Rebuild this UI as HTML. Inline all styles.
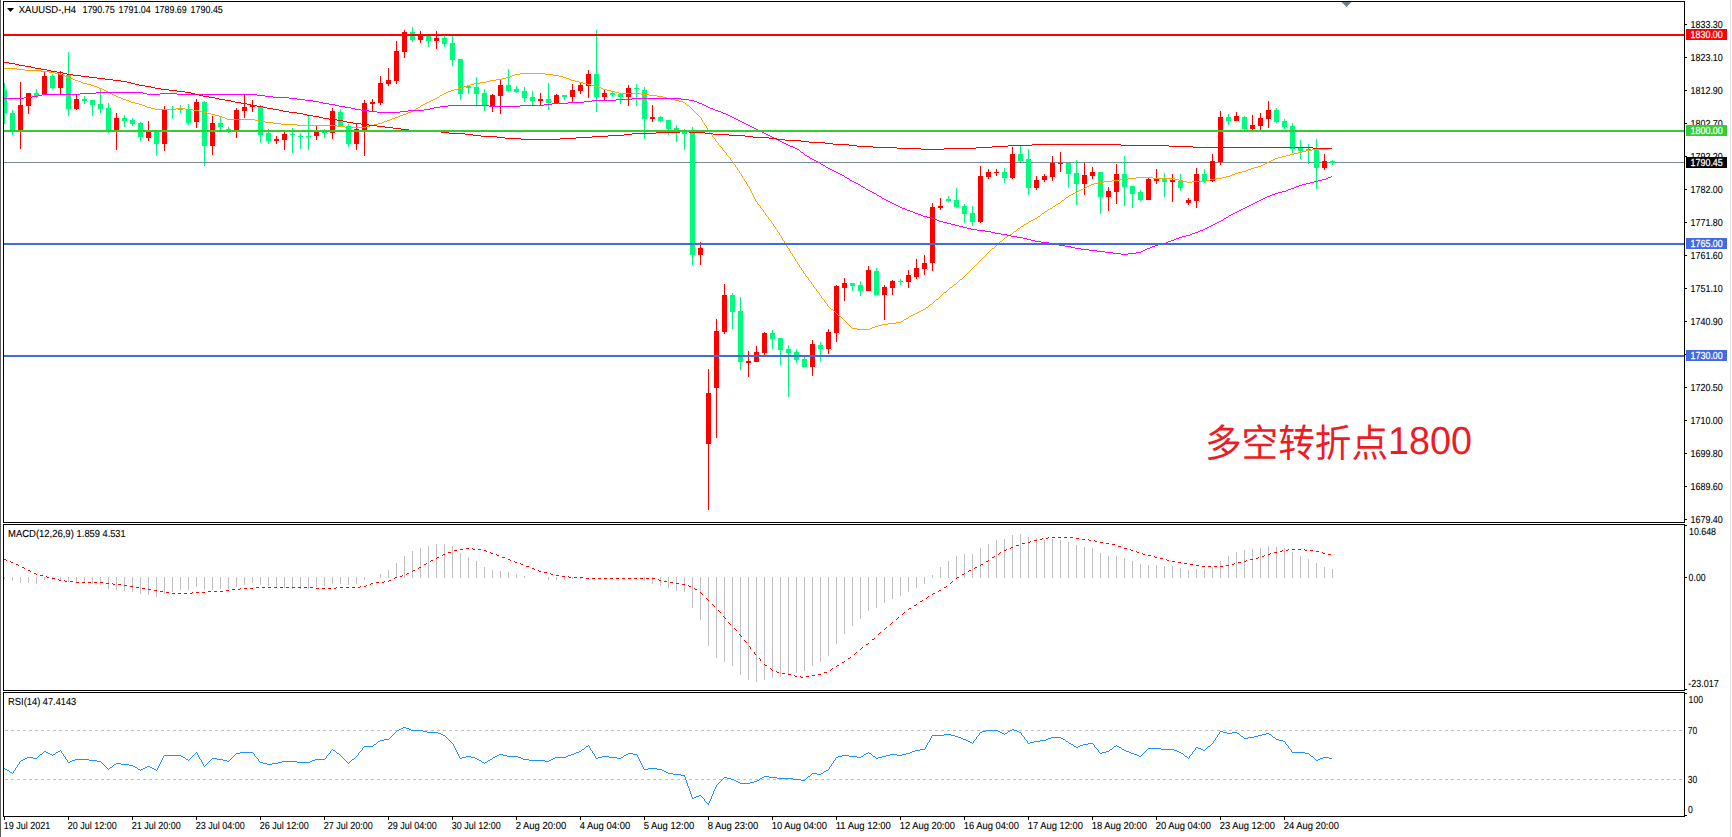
<!DOCTYPE html>
<html lang="zh"><head><meta charset="utf-8"><title>XAUUSD-,H4</title>
<style>html,body{margin:0;padding:0;background:#fff;overflow:hidden}svg{display:block}text{font-family:"Liberation Sans","Noto Sans CJK SC",sans-serif;font-size:10.2px;fill:#000;stroke:#000;stroke-width:0.1px;text-rendering:geometricPrecision}.cjk{stroke:none;font-family:"Liberation Sans","Noto Sans CJK SC",sans-serif;font-size:36px;fill:#ed1c24}.w{fill:#fff}</style></head><body>
<svg width="1732" height="837" viewBox="0 0 1732 837">
<rect x="0" y="0" width="1732" height="837" fill="#fff"/>
<g shape-rendering="crispEdges">
<rect x="0" y="0" width="1" height="837" fill="#5e5e5e"/>
<rect x="1730" y="0" width="1" height="837" fill="#e3e3e3"/>
<rect x="3" y="1" width="1682" height="1" fill="#000"/>
<rect x="3" y="522" width="1682" height="1" fill="#000"/>
<rect x="3" y="524" width="1682" height="1" fill="#000"/>
<rect x="3" y="690" width="1682" height="1" fill="#000"/>
<rect x="3" y="692" width="1682" height="1" fill="#000"/>
<rect x="3" y="816" width="1682" height="1" fill="#000"/>
<rect x="3" y="1" width="1" height="522" fill="#000"/>
<rect x="3" y="524" width="1" height="167" fill="#000"/>
<rect x="3" y="692" width="1" height="125" fill="#000"/>
<rect x="1684" y="1" width="1" height="522" fill="#000"/>
<rect x="1684" y="524" width="1" height="167" fill="#000"/>
<rect x="1684" y="692" width="1" height="125" fill="#000"/>
<rect x="4" y="162" width="1680" height="1" fill="#778899"/>
<rect x="5" y="730" width="3" height="1" fill="#c0c0c0"/>
<rect x="11" y="730" width="3" height="1" fill="#c0c0c0"/>
<rect x="17" y="730" width="3" height="1" fill="#c0c0c0"/>
<rect x="23" y="730" width="3" height="1" fill="#c0c0c0"/>
<rect x="29" y="730" width="3" height="1" fill="#c0c0c0"/>
<rect x="35" y="730" width="3" height="1" fill="#c0c0c0"/>
<rect x="41" y="730" width="3" height="1" fill="#c0c0c0"/>
<rect x="47" y="730" width="3" height="1" fill="#c0c0c0"/>
<rect x="53" y="730" width="3" height="1" fill="#c0c0c0"/>
<rect x="59" y="730" width="3" height="1" fill="#c0c0c0"/>
<rect x="65" y="730" width="3" height="1" fill="#c0c0c0"/>
<rect x="71" y="730" width="3" height="1" fill="#c0c0c0"/>
<rect x="77" y="730" width="3" height="1" fill="#c0c0c0"/>
<rect x="83" y="730" width="3" height="1" fill="#c0c0c0"/>
<rect x="89" y="730" width="3" height="1" fill="#c0c0c0"/>
<rect x="95" y="730" width="3" height="1" fill="#c0c0c0"/>
<rect x="101" y="730" width="3" height="1" fill="#c0c0c0"/>
<rect x="107" y="730" width="3" height="1" fill="#c0c0c0"/>
<rect x="113" y="730" width="3" height="1" fill="#c0c0c0"/>
<rect x="119" y="730" width="3" height="1" fill="#c0c0c0"/>
<rect x="125" y="730" width="3" height="1" fill="#c0c0c0"/>
<rect x="131" y="730" width="3" height="1" fill="#c0c0c0"/>
<rect x="137" y="730" width="3" height="1" fill="#c0c0c0"/>
<rect x="143" y="730" width="3" height="1" fill="#c0c0c0"/>
<rect x="149" y="730" width="3" height="1" fill="#c0c0c0"/>
<rect x="155" y="730" width="3" height="1" fill="#c0c0c0"/>
<rect x="161" y="730" width="3" height="1" fill="#c0c0c0"/>
<rect x="167" y="730" width="3" height="1" fill="#c0c0c0"/>
<rect x="173" y="730" width="3" height="1" fill="#c0c0c0"/>
<rect x="179" y="730" width="3" height="1" fill="#c0c0c0"/>
<rect x="185" y="730" width="3" height="1" fill="#c0c0c0"/>
<rect x="191" y="730" width="3" height="1" fill="#c0c0c0"/>
<rect x="197" y="730" width="3" height="1" fill="#c0c0c0"/>
<rect x="203" y="730" width="3" height="1" fill="#c0c0c0"/>
<rect x="209" y="730" width="3" height="1" fill="#c0c0c0"/>
<rect x="215" y="730" width="3" height="1" fill="#c0c0c0"/>
<rect x="221" y="730" width="3" height="1" fill="#c0c0c0"/>
<rect x="227" y="730" width="3" height="1" fill="#c0c0c0"/>
<rect x="233" y="730" width="3" height="1" fill="#c0c0c0"/>
<rect x="239" y="730" width="3" height="1" fill="#c0c0c0"/>
<rect x="245" y="730" width="3" height="1" fill="#c0c0c0"/>
<rect x="251" y="730" width="3" height="1" fill="#c0c0c0"/>
<rect x="257" y="730" width="3" height="1" fill="#c0c0c0"/>
<rect x="263" y="730" width="3" height="1" fill="#c0c0c0"/>
<rect x="269" y="730" width="3" height="1" fill="#c0c0c0"/>
<rect x="275" y="730" width="3" height="1" fill="#c0c0c0"/>
<rect x="281" y="730" width="3" height="1" fill="#c0c0c0"/>
<rect x="287" y="730" width="3" height="1" fill="#c0c0c0"/>
<rect x="293" y="730" width="3" height="1" fill="#c0c0c0"/>
<rect x="299" y="730" width="3" height="1" fill="#c0c0c0"/>
<rect x="305" y="730" width="3" height="1" fill="#c0c0c0"/>
<rect x="311" y="730" width="3" height="1" fill="#c0c0c0"/>
<rect x="317" y="730" width="3" height="1" fill="#c0c0c0"/>
<rect x="323" y="730" width="3" height="1" fill="#c0c0c0"/>
<rect x="329" y="730" width="3" height="1" fill="#c0c0c0"/>
<rect x="335" y="730" width="3" height="1" fill="#c0c0c0"/>
<rect x="341" y="730" width="3" height="1" fill="#c0c0c0"/>
<rect x="347" y="730" width="3" height="1" fill="#c0c0c0"/>
<rect x="353" y="730" width="3" height="1" fill="#c0c0c0"/>
<rect x="359" y="730" width="3" height="1" fill="#c0c0c0"/>
<rect x="365" y="730" width="3" height="1" fill="#c0c0c0"/>
<rect x="371" y="730" width="3" height="1" fill="#c0c0c0"/>
<rect x="377" y="730" width="3" height="1" fill="#c0c0c0"/>
<rect x="383" y="730" width="3" height="1" fill="#c0c0c0"/>
<rect x="389" y="730" width="3" height="1" fill="#c0c0c0"/>
<rect x="395" y="730" width="3" height="1" fill="#c0c0c0"/>
<rect x="401" y="730" width="3" height="1" fill="#c0c0c0"/>
<rect x="407" y="730" width="3" height="1" fill="#c0c0c0"/>
<rect x="413" y="730" width="3" height="1" fill="#c0c0c0"/>
<rect x="419" y="730" width="3" height="1" fill="#c0c0c0"/>
<rect x="425" y="730" width="3" height="1" fill="#c0c0c0"/>
<rect x="431" y="730" width="3" height="1" fill="#c0c0c0"/>
<rect x="437" y="730" width="3" height="1" fill="#c0c0c0"/>
<rect x="443" y="730" width="3" height="1" fill="#c0c0c0"/>
<rect x="449" y="730" width="3" height="1" fill="#c0c0c0"/>
<rect x="455" y="730" width="3" height="1" fill="#c0c0c0"/>
<rect x="461" y="730" width="3" height="1" fill="#c0c0c0"/>
<rect x="467" y="730" width="3" height="1" fill="#c0c0c0"/>
<rect x="473" y="730" width="3" height="1" fill="#c0c0c0"/>
<rect x="479" y="730" width="3" height="1" fill="#c0c0c0"/>
<rect x="485" y="730" width="3" height="1" fill="#c0c0c0"/>
<rect x="491" y="730" width="3" height="1" fill="#c0c0c0"/>
<rect x="497" y="730" width="3" height="1" fill="#c0c0c0"/>
<rect x="503" y="730" width="3" height="1" fill="#c0c0c0"/>
<rect x="509" y="730" width="3" height="1" fill="#c0c0c0"/>
<rect x="515" y="730" width="3" height="1" fill="#c0c0c0"/>
<rect x="521" y="730" width="3" height="1" fill="#c0c0c0"/>
<rect x="527" y="730" width="3" height="1" fill="#c0c0c0"/>
<rect x="533" y="730" width="3" height="1" fill="#c0c0c0"/>
<rect x="539" y="730" width="3" height="1" fill="#c0c0c0"/>
<rect x="545" y="730" width="3" height="1" fill="#c0c0c0"/>
<rect x="551" y="730" width="3" height="1" fill="#c0c0c0"/>
<rect x="557" y="730" width="3" height="1" fill="#c0c0c0"/>
<rect x="563" y="730" width="3" height="1" fill="#c0c0c0"/>
<rect x="569" y="730" width="3" height="1" fill="#c0c0c0"/>
<rect x="575" y="730" width="3" height="1" fill="#c0c0c0"/>
<rect x="581" y="730" width="3" height="1" fill="#c0c0c0"/>
<rect x="587" y="730" width="3" height="1" fill="#c0c0c0"/>
<rect x="593" y="730" width="3" height="1" fill="#c0c0c0"/>
<rect x="599" y="730" width="3" height="1" fill="#c0c0c0"/>
<rect x="605" y="730" width="3" height="1" fill="#c0c0c0"/>
<rect x="611" y="730" width="3" height="1" fill="#c0c0c0"/>
<rect x="617" y="730" width="3" height="1" fill="#c0c0c0"/>
<rect x="623" y="730" width="3" height="1" fill="#c0c0c0"/>
<rect x="629" y="730" width="3" height="1" fill="#c0c0c0"/>
<rect x="635" y="730" width="3" height="1" fill="#c0c0c0"/>
<rect x="641" y="730" width="3" height="1" fill="#c0c0c0"/>
<rect x="647" y="730" width="3" height="1" fill="#c0c0c0"/>
<rect x="653" y="730" width="3" height="1" fill="#c0c0c0"/>
<rect x="659" y="730" width="3" height="1" fill="#c0c0c0"/>
<rect x="665" y="730" width="3" height="1" fill="#c0c0c0"/>
<rect x="671" y="730" width="3" height="1" fill="#c0c0c0"/>
<rect x="677" y="730" width="3" height="1" fill="#c0c0c0"/>
<rect x="683" y="730" width="3" height="1" fill="#c0c0c0"/>
<rect x="689" y="730" width="3" height="1" fill="#c0c0c0"/>
<rect x="695" y="730" width="3" height="1" fill="#c0c0c0"/>
<rect x="701" y="730" width="3" height="1" fill="#c0c0c0"/>
<rect x="707" y="730" width="3" height="1" fill="#c0c0c0"/>
<rect x="713" y="730" width="3" height="1" fill="#c0c0c0"/>
<rect x="719" y="730" width="3" height="1" fill="#c0c0c0"/>
<rect x="725" y="730" width="3" height="1" fill="#c0c0c0"/>
<rect x="731" y="730" width="3" height="1" fill="#c0c0c0"/>
<rect x="737" y="730" width="3" height="1" fill="#c0c0c0"/>
<rect x="743" y="730" width="3" height="1" fill="#c0c0c0"/>
<rect x="749" y="730" width="3" height="1" fill="#c0c0c0"/>
<rect x="755" y="730" width="3" height="1" fill="#c0c0c0"/>
<rect x="761" y="730" width="3" height="1" fill="#c0c0c0"/>
<rect x="767" y="730" width="3" height="1" fill="#c0c0c0"/>
<rect x="773" y="730" width="3" height="1" fill="#c0c0c0"/>
<rect x="779" y="730" width="3" height="1" fill="#c0c0c0"/>
<rect x="785" y="730" width="3" height="1" fill="#c0c0c0"/>
<rect x="791" y="730" width="3" height="1" fill="#c0c0c0"/>
<rect x="797" y="730" width="3" height="1" fill="#c0c0c0"/>
<rect x="803" y="730" width="3" height="1" fill="#c0c0c0"/>
<rect x="809" y="730" width="3" height="1" fill="#c0c0c0"/>
<rect x="815" y="730" width="3" height="1" fill="#c0c0c0"/>
<rect x="821" y="730" width="3" height="1" fill="#c0c0c0"/>
<rect x="827" y="730" width="3" height="1" fill="#c0c0c0"/>
<rect x="833" y="730" width="3" height="1" fill="#c0c0c0"/>
<rect x="839" y="730" width="3" height="1" fill="#c0c0c0"/>
<rect x="845" y="730" width="3" height="1" fill="#c0c0c0"/>
<rect x="851" y="730" width="3" height="1" fill="#c0c0c0"/>
<rect x="857" y="730" width="3" height="1" fill="#c0c0c0"/>
<rect x="863" y="730" width="3" height="1" fill="#c0c0c0"/>
<rect x="869" y="730" width="3" height="1" fill="#c0c0c0"/>
<rect x="875" y="730" width="3" height="1" fill="#c0c0c0"/>
<rect x="881" y="730" width="3" height="1" fill="#c0c0c0"/>
<rect x="887" y="730" width="3" height="1" fill="#c0c0c0"/>
<rect x="893" y="730" width="3" height="1" fill="#c0c0c0"/>
<rect x="899" y="730" width="3" height="1" fill="#c0c0c0"/>
<rect x="905" y="730" width="3" height="1" fill="#c0c0c0"/>
<rect x="911" y="730" width="3" height="1" fill="#c0c0c0"/>
<rect x="917" y="730" width="3" height="1" fill="#c0c0c0"/>
<rect x="923" y="730" width="3" height="1" fill="#c0c0c0"/>
<rect x="929" y="730" width="3" height="1" fill="#c0c0c0"/>
<rect x="935" y="730" width="3" height="1" fill="#c0c0c0"/>
<rect x="941" y="730" width="3" height="1" fill="#c0c0c0"/>
<rect x="947" y="730" width="3" height="1" fill="#c0c0c0"/>
<rect x="953" y="730" width="3" height="1" fill="#c0c0c0"/>
<rect x="959" y="730" width="3" height="1" fill="#c0c0c0"/>
<rect x="965" y="730" width="3" height="1" fill="#c0c0c0"/>
<rect x="971" y="730" width="3" height="1" fill="#c0c0c0"/>
<rect x="977" y="730" width="3" height="1" fill="#c0c0c0"/>
<rect x="983" y="730" width="3" height="1" fill="#c0c0c0"/>
<rect x="989" y="730" width="3" height="1" fill="#c0c0c0"/>
<rect x="995" y="730" width="3" height="1" fill="#c0c0c0"/>
<rect x="1001" y="730" width="3" height="1" fill="#c0c0c0"/>
<rect x="1007" y="730" width="3" height="1" fill="#c0c0c0"/>
<rect x="1013" y="730" width="3" height="1" fill="#c0c0c0"/>
<rect x="1019" y="730" width="3" height="1" fill="#c0c0c0"/>
<rect x="1025" y="730" width="3" height="1" fill="#c0c0c0"/>
<rect x="1031" y="730" width="3" height="1" fill="#c0c0c0"/>
<rect x="1037" y="730" width="3" height="1" fill="#c0c0c0"/>
<rect x="1043" y="730" width="3" height="1" fill="#c0c0c0"/>
<rect x="1049" y="730" width="3" height="1" fill="#c0c0c0"/>
<rect x="1055" y="730" width="3" height="1" fill="#c0c0c0"/>
<rect x="1061" y="730" width="3" height="1" fill="#c0c0c0"/>
<rect x="1067" y="730" width="3" height="1" fill="#c0c0c0"/>
<rect x="1073" y="730" width="3" height="1" fill="#c0c0c0"/>
<rect x="1079" y="730" width="3" height="1" fill="#c0c0c0"/>
<rect x="1085" y="730" width="3" height="1" fill="#c0c0c0"/>
<rect x="1091" y="730" width="3" height="1" fill="#c0c0c0"/>
<rect x="1097" y="730" width="3" height="1" fill="#c0c0c0"/>
<rect x="1103" y="730" width="3" height="1" fill="#c0c0c0"/>
<rect x="1109" y="730" width="3" height="1" fill="#c0c0c0"/>
<rect x="1115" y="730" width="3" height="1" fill="#c0c0c0"/>
<rect x="1121" y="730" width="3" height="1" fill="#c0c0c0"/>
<rect x="1127" y="730" width="3" height="1" fill="#c0c0c0"/>
<rect x="1133" y="730" width="3" height="1" fill="#c0c0c0"/>
<rect x="1139" y="730" width="3" height="1" fill="#c0c0c0"/>
<rect x="1145" y="730" width="3" height="1" fill="#c0c0c0"/>
<rect x="1151" y="730" width="3" height="1" fill="#c0c0c0"/>
<rect x="1157" y="730" width="3" height="1" fill="#c0c0c0"/>
<rect x="1163" y="730" width="3" height="1" fill="#c0c0c0"/>
<rect x="1169" y="730" width="3" height="1" fill="#c0c0c0"/>
<rect x="1175" y="730" width="3" height="1" fill="#c0c0c0"/>
<rect x="1181" y="730" width="3" height="1" fill="#c0c0c0"/>
<rect x="1187" y="730" width="3" height="1" fill="#c0c0c0"/>
<rect x="1193" y="730" width="3" height="1" fill="#c0c0c0"/>
<rect x="1199" y="730" width="3" height="1" fill="#c0c0c0"/>
<rect x="1205" y="730" width="3" height="1" fill="#c0c0c0"/>
<rect x="1211" y="730" width="3" height="1" fill="#c0c0c0"/>
<rect x="1217" y="730" width="3" height="1" fill="#c0c0c0"/>
<rect x="1223" y="730" width="3" height="1" fill="#c0c0c0"/>
<rect x="1229" y="730" width="3" height="1" fill="#c0c0c0"/>
<rect x="1235" y="730" width="3" height="1" fill="#c0c0c0"/>
<rect x="1241" y="730" width="3" height="1" fill="#c0c0c0"/>
<rect x="1247" y="730" width="3" height="1" fill="#c0c0c0"/>
<rect x="1253" y="730" width="3" height="1" fill="#c0c0c0"/>
<rect x="1259" y="730" width="3" height="1" fill="#c0c0c0"/>
<rect x="1265" y="730" width="3" height="1" fill="#c0c0c0"/>
<rect x="1271" y="730" width="3" height="1" fill="#c0c0c0"/>
<rect x="1277" y="730" width="3" height="1" fill="#c0c0c0"/>
<rect x="1283" y="730" width="3" height="1" fill="#c0c0c0"/>
<rect x="1289" y="730" width="3" height="1" fill="#c0c0c0"/>
<rect x="1295" y="730" width="3" height="1" fill="#c0c0c0"/>
<rect x="1301" y="730" width="3" height="1" fill="#c0c0c0"/>
<rect x="1307" y="730" width="3" height="1" fill="#c0c0c0"/>
<rect x="1313" y="730" width="3" height="1" fill="#c0c0c0"/>
<rect x="1319" y="730" width="3" height="1" fill="#c0c0c0"/>
<rect x="1325" y="730" width="3" height="1" fill="#c0c0c0"/>
<rect x="1331" y="730" width="3" height="1" fill="#c0c0c0"/>
<rect x="1337" y="730" width="3" height="1" fill="#c0c0c0"/>
<rect x="1343" y="730" width="3" height="1" fill="#c0c0c0"/>
<rect x="1349" y="730" width="3" height="1" fill="#c0c0c0"/>
<rect x="1355" y="730" width="3" height="1" fill="#c0c0c0"/>
<rect x="1361" y="730" width="3" height="1" fill="#c0c0c0"/>
<rect x="1367" y="730" width="3" height="1" fill="#c0c0c0"/>
<rect x="1373" y="730" width="3" height="1" fill="#c0c0c0"/>
<rect x="1379" y="730" width="3" height="1" fill="#c0c0c0"/>
<rect x="1385" y="730" width="3" height="1" fill="#c0c0c0"/>
<rect x="1391" y="730" width="3" height="1" fill="#c0c0c0"/>
<rect x="1397" y="730" width="3" height="1" fill="#c0c0c0"/>
<rect x="1403" y="730" width="3" height="1" fill="#c0c0c0"/>
<rect x="1409" y="730" width="3" height="1" fill="#c0c0c0"/>
<rect x="1415" y="730" width="3" height="1" fill="#c0c0c0"/>
<rect x="1421" y="730" width="3" height="1" fill="#c0c0c0"/>
<rect x="1427" y="730" width="3" height="1" fill="#c0c0c0"/>
<rect x="1433" y="730" width="3" height="1" fill="#c0c0c0"/>
<rect x="1439" y="730" width="3" height="1" fill="#c0c0c0"/>
<rect x="1445" y="730" width="3" height="1" fill="#c0c0c0"/>
<rect x="1451" y="730" width="3" height="1" fill="#c0c0c0"/>
<rect x="1457" y="730" width="3" height="1" fill="#c0c0c0"/>
<rect x="1463" y="730" width="3" height="1" fill="#c0c0c0"/>
<rect x="1469" y="730" width="3" height="1" fill="#c0c0c0"/>
<rect x="1475" y="730" width="3" height="1" fill="#c0c0c0"/>
<rect x="1481" y="730" width="3" height="1" fill="#c0c0c0"/>
<rect x="1487" y="730" width="3" height="1" fill="#c0c0c0"/>
<rect x="1493" y="730" width="3" height="1" fill="#c0c0c0"/>
<rect x="1499" y="730" width="3" height="1" fill="#c0c0c0"/>
<rect x="1505" y="730" width="3" height="1" fill="#c0c0c0"/>
<rect x="1511" y="730" width="3" height="1" fill="#c0c0c0"/>
<rect x="1517" y="730" width="3" height="1" fill="#c0c0c0"/>
<rect x="1523" y="730" width="3" height="1" fill="#c0c0c0"/>
<rect x="1529" y="730" width="3" height="1" fill="#c0c0c0"/>
<rect x="1535" y="730" width="3" height="1" fill="#c0c0c0"/>
<rect x="1541" y="730" width="3" height="1" fill="#c0c0c0"/>
<rect x="1547" y="730" width="3" height="1" fill="#c0c0c0"/>
<rect x="1553" y="730" width="3" height="1" fill="#c0c0c0"/>
<rect x="1559" y="730" width="3" height="1" fill="#c0c0c0"/>
<rect x="1565" y="730" width="3" height="1" fill="#c0c0c0"/>
<rect x="1571" y="730" width="3" height="1" fill="#c0c0c0"/>
<rect x="1577" y="730" width="3" height="1" fill="#c0c0c0"/>
<rect x="1583" y="730" width="3" height="1" fill="#c0c0c0"/>
<rect x="1589" y="730" width="3" height="1" fill="#c0c0c0"/>
<rect x="1595" y="730" width="3" height="1" fill="#c0c0c0"/>
<rect x="1601" y="730" width="3" height="1" fill="#c0c0c0"/>
<rect x="1607" y="730" width="3" height="1" fill="#c0c0c0"/>
<rect x="1613" y="730" width="3" height="1" fill="#c0c0c0"/>
<rect x="1619" y="730" width="3" height="1" fill="#c0c0c0"/>
<rect x="1625" y="730" width="3" height="1" fill="#c0c0c0"/>
<rect x="1631" y="730" width="3" height="1" fill="#c0c0c0"/>
<rect x="1637" y="730" width="3" height="1" fill="#c0c0c0"/>
<rect x="1643" y="730" width="3" height="1" fill="#c0c0c0"/>
<rect x="1649" y="730" width="3" height="1" fill="#c0c0c0"/>
<rect x="1655" y="730" width="3" height="1" fill="#c0c0c0"/>
<rect x="1661" y="730" width="3" height="1" fill="#c0c0c0"/>
<rect x="1667" y="730" width="3" height="1" fill="#c0c0c0"/>
<rect x="1673" y="730" width="3" height="1" fill="#c0c0c0"/>
<rect x="1679" y="730" width="3" height="1" fill="#c0c0c0"/>
<rect x="5" y="779" width="3" height="1" fill="#c0c0c0"/>
<rect x="11" y="779" width="3" height="1" fill="#c0c0c0"/>
<rect x="17" y="779" width="3" height="1" fill="#c0c0c0"/>
<rect x="23" y="779" width="3" height="1" fill="#c0c0c0"/>
<rect x="29" y="779" width="3" height="1" fill="#c0c0c0"/>
<rect x="35" y="779" width="3" height="1" fill="#c0c0c0"/>
<rect x="41" y="779" width="3" height="1" fill="#c0c0c0"/>
<rect x="47" y="779" width="3" height="1" fill="#c0c0c0"/>
<rect x="53" y="779" width="3" height="1" fill="#c0c0c0"/>
<rect x="59" y="779" width="3" height="1" fill="#c0c0c0"/>
<rect x="65" y="779" width="3" height="1" fill="#c0c0c0"/>
<rect x="71" y="779" width="3" height="1" fill="#c0c0c0"/>
<rect x="77" y="779" width="3" height="1" fill="#c0c0c0"/>
<rect x="83" y="779" width="3" height="1" fill="#c0c0c0"/>
<rect x="89" y="779" width="3" height="1" fill="#c0c0c0"/>
<rect x="95" y="779" width="3" height="1" fill="#c0c0c0"/>
<rect x="101" y="779" width="3" height="1" fill="#c0c0c0"/>
<rect x="107" y="779" width="3" height="1" fill="#c0c0c0"/>
<rect x="113" y="779" width="3" height="1" fill="#c0c0c0"/>
<rect x="119" y="779" width="3" height="1" fill="#c0c0c0"/>
<rect x="125" y="779" width="3" height="1" fill="#c0c0c0"/>
<rect x="131" y="779" width="3" height="1" fill="#c0c0c0"/>
<rect x="137" y="779" width="3" height="1" fill="#c0c0c0"/>
<rect x="143" y="779" width="3" height="1" fill="#c0c0c0"/>
<rect x="149" y="779" width="3" height="1" fill="#c0c0c0"/>
<rect x="155" y="779" width="3" height="1" fill="#c0c0c0"/>
<rect x="161" y="779" width="3" height="1" fill="#c0c0c0"/>
<rect x="167" y="779" width="3" height="1" fill="#c0c0c0"/>
<rect x="173" y="779" width="3" height="1" fill="#c0c0c0"/>
<rect x="179" y="779" width="3" height="1" fill="#c0c0c0"/>
<rect x="185" y="779" width="3" height="1" fill="#c0c0c0"/>
<rect x="191" y="779" width="3" height="1" fill="#c0c0c0"/>
<rect x="197" y="779" width="3" height="1" fill="#c0c0c0"/>
<rect x="203" y="779" width="3" height="1" fill="#c0c0c0"/>
<rect x="209" y="779" width="3" height="1" fill="#c0c0c0"/>
<rect x="215" y="779" width="3" height="1" fill="#c0c0c0"/>
<rect x="221" y="779" width="3" height="1" fill="#c0c0c0"/>
<rect x="227" y="779" width="3" height="1" fill="#c0c0c0"/>
<rect x="233" y="779" width="3" height="1" fill="#c0c0c0"/>
<rect x="239" y="779" width="3" height="1" fill="#c0c0c0"/>
<rect x="245" y="779" width="3" height="1" fill="#c0c0c0"/>
<rect x="251" y="779" width="3" height="1" fill="#c0c0c0"/>
<rect x="257" y="779" width="3" height="1" fill="#c0c0c0"/>
<rect x="263" y="779" width="3" height="1" fill="#c0c0c0"/>
<rect x="269" y="779" width="3" height="1" fill="#c0c0c0"/>
<rect x="275" y="779" width="3" height="1" fill="#c0c0c0"/>
<rect x="281" y="779" width="3" height="1" fill="#c0c0c0"/>
<rect x="287" y="779" width="3" height="1" fill="#c0c0c0"/>
<rect x="293" y="779" width="3" height="1" fill="#c0c0c0"/>
<rect x="299" y="779" width="3" height="1" fill="#c0c0c0"/>
<rect x="305" y="779" width="3" height="1" fill="#c0c0c0"/>
<rect x="311" y="779" width="3" height="1" fill="#c0c0c0"/>
<rect x="317" y="779" width="3" height="1" fill="#c0c0c0"/>
<rect x="323" y="779" width="3" height="1" fill="#c0c0c0"/>
<rect x="329" y="779" width="3" height="1" fill="#c0c0c0"/>
<rect x="335" y="779" width="3" height="1" fill="#c0c0c0"/>
<rect x="341" y="779" width="3" height="1" fill="#c0c0c0"/>
<rect x="347" y="779" width="3" height="1" fill="#c0c0c0"/>
<rect x="353" y="779" width="3" height="1" fill="#c0c0c0"/>
<rect x="359" y="779" width="3" height="1" fill="#c0c0c0"/>
<rect x="365" y="779" width="3" height="1" fill="#c0c0c0"/>
<rect x="371" y="779" width="3" height="1" fill="#c0c0c0"/>
<rect x="377" y="779" width="3" height="1" fill="#c0c0c0"/>
<rect x="383" y="779" width="3" height="1" fill="#c0c0c0"/>
<rect x="389" y="779" width="3" height="1" fill="#c0c0c0"/>
<rect x="395" y="779" width="3" height="1" fill="#c0c0c0"/>
<rect x="401" y="779" width="3" height="1" fill="#c0c0c0"/>
<rect x="407" y="779" width="3" height="1" fill="#c0c0c0"/>
<rect x="413" y="779" width="3" height="1" fill="#c0c0c0"/>
<rect x="419" y="779" width="3" height="1" fill="#c0c0c0"/>
<rect x="425" y="779" width="3" height="1" fill="#c0c0c0"/>
<rect x="431" y="779" width="3" height="1" fill="#c0c0c0"/>
<rect x="437" y="779" width="3" height="1" fill="#c0c0c0"/>
<rect x="443" y="779" width="3" height="1" fill="#c0c0c0"/>
<rect x="449" y="779" width="3" height="1" fill="#c0c0c0"/>
<rect x="455" y="779" width="3" height="1" fill="#c0c0c0"/>
<rect x="461" y="779" width="3" height="1" fill="#c0c0c0"/>
<rect x="467" y="779" width="3" height="1" fill="#c0c0c0"/>
<rect x="473" y="779" width="3" height="1" fill="#c0c0c0"/>
<rect x="479" y="779" width="3" height="1" fill="#c0c0c0"/>
<rect x="485" y="779" width="3" height="1" fill="#c0c0c0"/>
<rect x="491" y="779" width="3" height="1" fill="#c0c0c0"/>
<rect x="497" y="779" width="3" height="1" fill="#c0c0c0"/>
<rect x="503" y="779" width="3" height="1" fill="#c0c0c0"/>
<rect x="509" y="779" width="3" height="1" fill="#c0c0c0"/>
<rect x="515" y="779" width="3" height="1" fill="#c0c0c0"/>
<rect x="521" y="779" width="3" height="1" fill="#c0c0c0"/>
<rect x="527" y="779" width="3" height="1" fill="#c0c0c0"/>
<rect x="533" y="779" width="3" height="1" fill="#c0c0c0"/>
<rect x="539" y="779" width="3" height="1" fill="#c0c0c0"/>
<rect x="545" y="779" width="3" height="1" fill="#c0c0c0"/>
<rect x="551" y="779" width="3" height="1" fill="#c0c0c0"/>
<rect x="557" y="779" width="3" height="1" fill="#c0c0c0"/>
<rect x="563" y="779" width="3" height="1" fill="#c0c0c0"/>
<rect x="569" y="779" width="3" height="1" fill="#c0c0c0"/>
<rect x="575" y="779" width="3" height="1" fill="#c0c0c0"/>
<rect x="581" y="779" width="3" height="1" fill="#c0c0c0"/>
<rect x="587" y="779" width="3" height="1" fill="#c0c0c0"/>
<rect x="593" y="779" width="3" height="1" fill="#c0c0c0"/>
<rect x="599" y="779" width="3" height="1" fill="#c0c0c0"/>
<rect x="605" y="779" width="3" height="1" fill="#c0c0c0"/>
<rect x="611" y="779" width="3" height="1" fill="#c0c0c0"/>
<rect x="617" y="779" width="3" height="1" fill="#c0c0c0"/>
<rect x="623" y="779" width="3" height="1" fill="#c0c0c0"/>
<rect x="629" y="779" width="3" height="1" fill="#c0c0c0"/>
<rect x="635" y="779" width="3" height="1" fill="#c0c0c0"/>
<rect x="641" y="779" width="3" height="1" fill="#c0c0c0"/>
<rect x="647" y="779" width="3" height="1" fill="#c0c0c0"/>
<rect x="653" y="779" width="3" height="1" fill="#c0c0c0"/>
<rect x="659" y="779" width="3" height="1" fill="#c0c0c0"/>
<rect x="665" y="779" width="3" height="1" fill="#c0c0c0"/>
<rect x="671" y="779" width="3" height="1" fill="#c0c0c0"/>
<rect x="677" y="779" width="3" height="1" fill="#c0c0c0"/>
<rect x="683" y="779" width="3" height="1" fill="#c0c0c0"/>
<rect x="689" y="779" width="3" height="1" fill="#c0c0c0"/>
<rect x="695" y="779" width="3" height="1" fill="#c0c0c0"/>
<rect x="701" y="779" width="3" height="1" fill="#c0c0c0"/>
<rect x="707" y="779" width="3" height="1" fill="#c0c0c0"/>
<rect x="713" y="779" width="3" height="1" fill="#c0c0c0"/>
<rect x="719" y="779" width="3" height="1" fill="#c0c0c0"/>
<rect x="725" y="779" width="3" height="1" fill="#c0c0c0"/>
<rect x="731" y="779" width="3" height="1" fill="#c0c0c0"/>
<rect x="737" y="779" width="3" height="1" fill="#c0c0c0"/>
<rect x="743" y="779" width="3" height="1" fill="#c0c0c0"/>
<rect x="749" y="779" width="3" height="1" fill="#c0c0c0"/>
<rect x="755" y="779" width="3" height="1" fill="#c0c0c0"/>
<rect x="761" y="779" width="3" height="1" fill="#c0c0c0"/>
<rect x="767" y="779" width="3" height="1" fill="#c0c0c0"/>
<rect x="773" y="779" width="3" height="1" fill="#c0c0c0"/>
<rect x="779" y="779" width="3" height="1" fill="#c0c0c0"/>
<rect x="785" y="779" width="3" height="1" fill="#c0c0c0"/>
<rect x="791" y="779" width="3" height="1" fill="#c0c0c0"/>
<rect x="797" y="779" width="3" height="1" fill="#c0c0c0"/>
<rect x="803" y="779" width="3" height="1" fill="#c0c0c0"/>
<rect x="809" y="779" width="3" height="1" fill="#c0c0c0"/>
<rect x="815" y="779" width="3" height="1" fill="#c0c0c0"/>
<rect x="821" y="779" width="3" height="1" fill="#c0c0c0"/>
<rect x="827" y="779" width="3" height="1" fill="#c0c0c0"/>
<rect x="833" y="779" width="3" height="1" fill="#c0c0c0"/>
<rect x="839" y="779" width="3" height="1" fill="#c0c0c0"/>
<rect x="845" y="779" width="3" height="1" fill="#c0c0c0"/>
<rect x="851" y="779" width="3" height="1" fill="#c0c0c0"/>
<rect x="857" y="779" width="3" height="1" fill="#c0c0c0"/>
<rect x="863" y="779" width="3" height="1" fill="#c0c0c0"/>
<rect x="869" y="779" width="3" height="1" fill="#c0c0c0"/>
<rect x="875" y="779" width="3" height="1" fill="#c0c0c0"/>
<rect x="881" y="779" width="3" height="1" fill="#c0c0c0"/>
<rect x="887" y="779" width="3" height="1" fill="#c0c0c0"/>
<rect x="893" y="779" width="3" height="1" fill="#c0c0c0"/>
<rect x="899" y="779" width="3" height="1" fill="#c0c0c0"/>
<rect x="905" y="779" width="3" height="1" fill="#c0c0c0"/>
<rect x="911" y="779" width="3" height="1" fill="#c0c0c0"/>
<rect x="917" y="779" width="3" height="1" fill="#c0c0c0"/>
<rect x="923" y="779" width="3" height="1" fill="#c0c0c0"/>
<rect x="929" y="779" width="3" height="1" fill="#c0c0c0"/>
<rect x="935" y="779" width="3" height="1" fill="#c0c0c0"/>
<rect x="941" y="779" width="3" height="1" fill="#c0c0c0"/>
<rect x="947" y="779" width="3" height="1" fill="#c0c0c0"/>
<rect x="953" y="779" width="3" height="1" fill="#c0c0c0"/>
<rect x="959" y="779" width="3" height="1" fill="#c0c0c0"/>
<rect x="965" y="779" width="3" height="1" fill="#c0c0c0"/>
<rect x="971" y="779" width="3" height="1" fill="#c0c0c0"/>
<rect x="977" y="779" width="3" height="1" fill="#c0c0c0"/>
<rect x="983" y="779" width="3" height="1" fill="#c0c0c0"/>
<rect x="989" y="779" width="3" height="1" fill="#c0c0c0"/>
<rect x="995" y="779" width="3" height="1" fill="#c0c0c0"/>
<rect x="1001" y="779" width="3" height="1" fill="#c0c0c0"/>
<rect x="1007" y="779" width="3" height="1" fill="#c0c0c0"/>
<rect x="1013" y="779" width="3" height="1" fill="#c0c0c0"/>
<rect x="1019" y="779" width="3" height="1" fill="#c0c0c0"/>
<rect x="1025" y="779" width="3" height="1" fill="#c0c0c0"/>
<rect x="1031" y="779" width="3" height="1" fill="#c0c0c0"/>
<rect x="1037" y="779" width="3" height="1" fill="#c0c0c0"/>
<rect x="1043" y="779" width="3" height="1" fill="#c0c0c0"/>
<rect x="1049" y="779" width="3" height="1" fill="#c0c0c0"/>
<rect x="1055" y="779" width="3" height="1" fill="#c0c0c0"/>
<rect x="1061" y="779" width="3" height="1" fill="#c0c0c0"/>
<rect x="1067" y="779" width="3" height="1" fill="#c0c0c0"/>
<rect x="1073" y="779" width="3" height="1" fill="#c0c0c0"/>
<rect x="1079" y="779" width="3" height="1" fill="#c0c0c0"/>
<rect x="1085" y="779" width="3" height="1" fill="#c0c0c0"/>
<rect x="1091" y="779" width="3" height="1" fill="#c0c0c0"/>
<rect x="1097" y="779" width="3" height="1" fill="#c0c0c0"/>
<rect x="1103" y="779" width="3" height="1" fill="#c0c0c0"/>
<rect x="1109" y="779" width="3" height="1" fill="#c0c0c0"/>
<rect x="1115" y="779" width="3" height="1" fill="#c0c0c0"/>
<rect x="1121" y="779" width="3" height="1" fill="#c0c0c0"/>
<rect x="1127" y="779" width="3" height="1" fill="#c0c0c0"/>
<rect x="1133" y="779" width="3" height="1" fill="#c0c0c0"/>
<rect x="1139" y="779" width="3" height="1" fill="#c0c0c0"/>
<rect x="1145" y="779" width="3" height="1" fill="#c0c0c0"/>
<rect x="1151" y="779" width="3" height="1" fill="#c0c0c0"/>
<rect x="1157" y="779" width="3" height="1" fill="#c0c0c0"/>
<rect x="1163" y="779" width="3" height="1" fill="#c0c0c0"/>
<rect x="1169" y="779" width="3" height="1" fill="#c0c0c0"/>
<rect x="1175" y="779" width="3" height="1" fill="#c0c0c0"/>
<rect x="1181" y="779" width="3" height="1" fill="#c0c0c0"/>
<rect x="1187" y="779" width="3" height="1" fill="#c0c0c0"/>
<rect x="1193" y="779" width="3" height="1" fill="#c0c0c0"/>
<rect x="1199" y="779" width="3" height="1" fill="#c0c0c0"/>
<rect x="1205" y="779" width="3" height="1" fill="#c0c0c0"/>
<rect x="1211" y="779" width="3" height="1" fill="#c0c0c0"/>
<rect x="1217" y="779" width="3" height="1" fill="#c0c0c0"/>
<rect x="1223" y="779" width="3" height="1" fill="#c0c0c0"/>
<rect x="1229" y="779" width="3" height="1" fill="#c0c0c0"/>
<rect x="1235" y="779" width="3" height="1" fill="#c0c0c0"/>
<rect x="1241" y="779" width="3" height="1" fill="#c0c0c0"/>
<rect x="1247" y="779" width="3" height="1" fill="#c0c0c0"/>
<rect x="1253" y="779" width="3" height="1" fill="#c0c0c0"/>
<rect x="1259" y="779" width="3" height="1" fill="#c0c0c0"/>
<rect x="1265" y="779" width="3" height="1" fill="#c0c0c0"/>
<rect x="1271" y="779" width="3" height="1" fill="#c0c0c0"/>
<rect x="1277" y="779" width="3" height="1" fill="#c0c0c0"/>
<rect x="1283" y="779" width="3" height="1" fill="#c0c0c0"/>
<rect x="1289" y="779" width="3" height="1" fill="#c0c0c0"/>
<rect x="1295" y="779" width="3" height="1" fill="#c0c0c0"/>
<rect x="1301" y="779" width="3" height="1" fill="#c0c0c0"/>
<rect x="1307" y="779" width="3" height="1" fill="#c0c0c0"/>
<rect x="1313" y="779" width="3" height="1" fill="#c0c0c0"/>
<rect x="1319" y="779" width="3" height="1" fill="#c0c0c0"/>
<rect x="1325" y="779" width="3" height="1" fill="#c0c0c0"/>
<rect x="1331" y="779" width="3" height="1" fill="#c0c0c0"/>
<rect x="1337" y="779" width="3" height="1" fill="#c0c0c0"/>
<rect x="1343" y="779" width="3" height="1" fill="#c0c0c0"/>
<rect x="1349" y="779" width="3" height="1" fill="#c0c0c0"/>
<rect x="1355" y="779" width="3" height="1" fill="#c0c0c0"/>
<rect x="1361" y="779" width="3" height="1" fill="#c0c0c0"/>
<rect x="1367" y="779" width="3" height="1" fill="#c0c0c0"/>
<rect x="1373" y="779" width="3" height="1" fill="#c0c0c0"/>
<rect x="1379" y="779" width="3" height="1" fill="#c0c0c0"/>
<rect x="1385" y="779" width="3" height="1" fill="#c0c0c0"/>
<rect x="1391" y="779" width="3" height="1" fill="#c0c0c0"/>
<rect x="1397" y="779" width="3" height="1" fill="#c0c0c0"/>
<rect x="1403" y="779" width="3" height="1" fill="#c0c0c0"/>
<rect x="1409" y="779" width="3" height="1" fill="#c0c0c0"/>
<rect x="1415" y="779" width="3" height="1" fill="#c0c0c0"/>
<rect x="1421" y="779" width="3" height="1" fill="#c0c0c0"/>
<rect x="1427" y="779" width="3" height="1" fill="#c0c0c0"/>
<rect x="1433" y="779" width="3" height="1" fill="#c0c0c0"/>
<rect x="1439" y="779" width="3" height="1" fill="#c0c0c0"/>
<rect x="1445" y="779" width="3" height="1" fill="#c0c0c0"/>
<rect x="1451" y="779" width="3" height="1" fill="#c0c0c0"/>
<rect x="1457" y="779" width="3" height="1" fill="#c0c0c0"/>
<rect x="1463" y="779" width="3" height="1" fill="#c0c0c0"/>
<rect x="1469" y="779" width="3" height="1" fill="#c0c0c0"/>
<rect x="1475" y="779" width="3" height="1" fill="#c0c0c0"/>
<rect x="1481" y="779" width="3" height="1" fill="#c0c0c0"/>
<rect x="1487" y="779" width="3" height="1" fill="#c0c0c0"/>
<rect x="1493" y="779" width="3" height="1" fill="#c0c0c0"/>
<rect x="1499" y="779" width="3" height="1" fill="#c0c0c0"/>
<rect x="1505" y="779" width="3" height="1" fill="#c0c0c0"/>
<rect x="1511" y="779" width="3" height="1" fill="#c0c0c0"/>
<rect x="1517" y="779" width="3" height="1" fill="#c0c0c0"/>
<rect x="1523" y="779" width="3" height="1" fill="#c0c0c0"/>
<rect x="1529" y="779" width="3" height="1" fill="#c0c0c0"/>
<rect x="1535" y="779" width="3" height="1" fill="#c0c0c0"/>
<rect x="1541" y="779" width="3" height="1" fill="#c0c0c0"/>
<rect x="1547" y="779" width="3" height="1" fill="#c0c0c0"/>
<rect x="1553" y="779" width="3" height="1" fill="#c0c0c0"/>
<rect x="1559" y="779" width="3" height="1" fill="#c0c0c0"/>
<rect x="1565" y="779" width="3" height="1" fill="#c0c0c0"/>
<rect x="1571" y="779" width="3" height="1" fill="#c0c0c0"/>
<rect x="1577" y="779" width="3" height="1" fill="#c0c0c0"/>
<rect x="1583" y="779" width="3" height="1" fill="#c0c0c0"/>
<rect x="1589" y="779" width="3" height="1" fill="#c0c0c0"/>
<rect x="1595" y="779" width="3" height="1" fill="#c0c0c0"/>
<rect x="1601" y="779" width="3" height="1" fill="#c0c0c0"/>
<rect x="1607" y="779" width="3" height="1" fill="#c0c0c0"/>
<rect x="1613" y="779" width="3" height="1" fill="#c0c0c0"/>
<rect x="1619" y="779" width="3" height="1" fill="#c0c0c0"/>
<rect x="1625" y="779" width="3" height="1" fill="#c0c0c0"/>
<rect x="1631" y="779" width="3" height="1" fill="#c0c0c0"/>
<rect x="1637" y="779" width="3" height="1" fill="#c0c0c0"/>
<rect x="1643" y="779" width="3" height="1" fill="#c0c0c0"/>
<rect x="1649" y="779" width="3" height="1" fill="#c0c0c0"/>
<rect x="1655" y="779" width="3" height="1" fill="#c0c0c0"/>
<rect x="1661" y="779" width="3" height="1" fill="#c0c0c0"/>
<rect x="1667" y="779" width="3" height="1" fill="#c0c0c0"/>
<rect x="1673" y="779" width="3" height="1" fill="#c0c0c0"/>
<rect x="1679" y="779" width="3" height="1" fill="#c0c0c0"/>
<rect x="4" y="83" width="1" height="41" fill="#00fa7d"/>
<rect x="4" y="90" width="3" height="23" fill="#00fa7d"/>
<rect x="12" y="110" width="1" height="25" fill="#00fa7d"/>
<rect x="10" y="113" width="5" height="17" fill="#00fa7d"/>
<rect x="20" y="82" width="1" height="67" fill="#ff0000"/>
<rect x="18" y="105" width="5" height="25" fill="#ff0000"/>
<rect x="28" y="93" width="1" height="21" fill="#ff0000"/>
<rect x="26" y="93" width="5" height="13" fill="#ff0000"/>
<rect x="36" y="89" width="1" height="9" fill="#00fa7d"/>
<rect x="34" y="93" width="5" height="3" fill="#00fa7d"/>
<rect x="44" y="71" width="1" height="24" fill="#ff0000"/>
<rect x="42" y="76" width="5" height="19" fill="#ff0000"/>
<rect x="52" y="74" width="1" height="15" fill="#00fa7d"/>
<rect x="50" y="76" width="5" height="12" fill="#00fa7d"/>
<rect x="60" y="71" width="1" height="23" fill="#ff0000"/>
<rect x="58" y="74" width="5" height="14" fill="#ff0000"/>
<rect x="68" y="52" width="1" height="64" fill="#00fa7d"/>
<rect x="66" y="75" width="5" height="34" fill="#00fa7d"/>
<rect x="76" y="94" width="1" height="16" fill="#ff0000"/>
<rect x="74" y="99" width="5" height="10" fill="#ff0000"/>
<rect x="84" y="96" width="1" height="8" fill="#00fa7d"/>
<rect x="82" y="99" width="5" height="2" fill="#00fa7d"/>
<rect x="92" y="100" width="1" height="16" fill="#00fa7d"/>
<rect x="90" y="100" width="5" height="5" fill="#00fa7d"/>
<rect x="100" y="89" width="1" height="24" fill="#00fa7d"/>
<rect x="98" y="104" width="5" height="5" fill="#00fa7d"/>
<rect x="108" y="103" width="1" height="30" fill="#00fa7d"/>
<rect x="106" y="108" width="5" height="22" fill="#00fa7d"/>
<rect x="116" y="113" width="1" height="37" fill="#ff0000"/>
<rect x="114" y="118" width="5" height="12" fill="#ff0000"/>
<rect x="124" y="115" width="1" height="12" fill="#00fa7d"/>
<rect x="122" y="118" width="5" height="3" fill="#00fa7d"/>
<rect x="132" y="118" width="1" height="8" fill="#00fa7d"/>
<rect x="130" y="120" width="5" height="4" fill="#00fa7d"/>
<rect x="140" y="122" width="1" height="19" fill="#00fa7d"/>
<rect x="138" y="123" width="5" height="14" fill="#00fa7d"/>
<rect x="148" y="121" width="1" height="20" fill="#ff0000"/>
<rect x="146" y="132" width="5" height="6" fill="#ff0000"/>
<rect x="156" y="130" width="1" height="26" fill="#00fa7d"/>
<rect x="154" y="130" width="5" height="14" fill="#00fa7d"/>
<rect x="164" y="106" width="1" height="45" fill="#ff0000"/>
<rect x="162" y="109" width="5" height="35" fill="#ff0000"/>
<rect x="172" y="106" width="1" height="13" fill="#00fa7d"/>
<rect x="170" y="109" width="5" height="1" fill="#00fa7d"/>
<rect x="180" y="105" width="1" height="8" fill="#00fa7d"/>
<rect x="178" y="108" width="5" height="2" fill="#00fa7d"/>
<rect x="188" y="104" width="1" height="21" fill="#00fa7d"/>
<rect x="186" y="110" width="5" height="13" fill="#00fa7d"/>
<rect x="196" y="99" width="1" height="29" fill="#ff0000"/>
<rect x="194" y="102" width="5" height="20" fill="#ff0000"/>
<rect x="204" y="101" width="1" height="65" fill="#00fa7d"/>
<rect x="202" y="102" width="5" height="44" fill="#00fa7d"/>
<rect x="212" y="116" width="1" height="39" fill="#ff0000"/>
<rect x="210" y="123" width="5" height="23" fill="#ff0000"/>
<rect x="220" y="116" width="1" height="14" fill="#00fa7d"/>
<rect x="218" y="123" width="5" height="4" fill="#00fa7d"/>
<rect x="228" y="127" width="1" height="6" fill="#00fa7d"/>
<rect x="226" y="129" width="5" height="1" fill="#00fa7d"/>
<rect x="236" y="108" width="1" height="30" fill="#ff0000"/>
<rect x="234" y="110" width="5" height="20" fill="#ff0000"/>
<rect x="244" y="94" width="1" height="24" fill="#ff0000"/>
<rect x="242" y="107" width="5" height="4" fill="#ff0000"/>
<rect x="252" y="100" width="1" height="12" fill="#ff0000"/>
<rect x="250" y="105" width="5" height="2" fill="#ff0000"/>
<rect x="260" y="105" width="1" height="38" fill="#00fa7d"/>
<rect x="258" y="106" width="5" height="29" fill="#00fa7d"/>
<rect x="268" y="129" width="1" height="15" fill="#00fa7d"/>
<rect x="266" y="133" width="5" height="8" fill="#00fa7d"/>
<rect x="276" y="136" width="1" height="8" fill="#ff0000"/>
<rect x="274" y="139" width="5" height="2" fill="#ff0000"/>
<rect x="284" y="132" width="1" height="18" fill="#ff0000"/>
<rect x="282" y="134" width="5" height="6" fill="#ff0000"/>
<rect x="292" y="128" width="1" height="25" fill="#00fa7d"/>
<rect x="290" y="134" width="5" height="1" fill="#00fa7d"/>
<rect x="300" y="133" width="1" height="16" fill="#00fa7d"/>
<rect x="298" y="136" width="5" height="1" fill="#00fa7d"/>
<rect x="308" y="116" width="1" height="34" fill="#00fa7d"/>
<rect x="306" y="136" width="5" height="1" fill="#00fa7d"/>
<rect x="316" y="126" width="1" height="14" fill="#ff0000"/>
<rect x="314" y="131" width="5" height="5" fill="#ff0000"/>
<rect x="324" y="129" width="1" height="9" fill="#00fa7d"/>
<rect x="322" y="132" width="5" height="1" fill="#00fa7d"/>
<rect x="332" y="108" width="1" height="31" fill="#ff0000"/>
<rect x="330" y="111" width="5" height="22" fill="#ff0000"/>
<rect x="340" y="109" width="1" height="17" fill="#00fa7d"/>
<rect x="338" y="112" width="5" height="14" fill="#00fa7d"/>
<rect x="348" y="124" width="1" height="23" fill="#00fa7d"/>
<rect x="346" y="126" width="5" height="18" fill="#00fa7d"/>
<rect x="356" y="124" width="1" height="26" fill="#ff0000"/>
<rect x="354" y="129" width="5" height="15" fill="#ff0000"/>
<rect x="364" y="100" width="1" height="56" fill="#ff0000"/>
<rect x="362" y="103" width="5" height="27" fill="#ff0000"/>
<rect x="372" y="99" width="1" height="12" fill="#ff0000"/>
<rect x="370" y="102" width="5" height="2" fill="#ff0000"/>
<rect x="380" y="76" width="1" height="29" fill="#ff0000"/>
<rect x="378" y="83" width="5" height="20" fill="#ff0000"/>
<rect x="388" y="68" width="1" height="18" fill="#ff0000"/>
<rect x="386" y="80" width="5" height="4" fill="#ff0000"/>
<rect x="396" y="41" width="1" height="43" fill="#ff0000"/>
<rect x="394" y="51" width="5" height="30" fill="#ff0000"/>
<rect x="404" y="30" width="1" height="28" fill="#ff0000"/>
<rect x="402" y="32" width="5" height="20" fill="#ff0000"/>
<rect x="412" y="27" width="1" height="15" fill="#00fa7d"/>
<rect x="410" y="32" width="5" height="8" fill="#00fa7d"/>
<rect x="420" y="31" width="1" height="12" fill="#ff0000"/>
<rect x="418" y="34" width="5" height="6" fill="#ff0000"/>
<rect x="428" y="36" width="1" height="11" fill="#00fa7d"/>
<rect x="426" y="36" width="5" height="5" fill="#00fa7d"/>
<rect x="436" y="31" width="1" height="18" fill="#ff0000"/>
<rect x="434" y="38" width="5" height="3" fill="#ff0000"/>
<rect x="444" y="36" width="1" height="11" fill="#00fa7d"/>
<rect x="442" y="38" width="5" height="6" fill="#00fa7d"/>
<rect x="452" y="36" width="1" height="30" fill="#00fa7d"/>
<rect x="450" y="43" width="5" height="17" fill="#00fa7d"/>
<rect x="460" y="59" width="1" height="41" fill="#00fa7d"/>
<rect x="458" y="59" width="5" height="35" fill="#00fa7d"/>
<rect x="468" y="86" width="1" height="8" fill="#00fa7d"/>
<rect x="466" y="86" width="5" height="2" fill="#00fa7d"/>
<rect x="476" y="77" width="1" height="28" fill="#00fa7d"/>
<rect x="474" y="87" width="5" height="7" fill="#00fa7d"/>
<rect x="484" y="89" width="1" height="22" fill="#00fa7d"/>
<rect x="482" y="93" width="5" height="13" fill="#00fa7d"/>
<rect x="492" y="94" width="1" height="18" fill="#ff0000"/>
<rect x="490" y="95" width="5" height="11" fill="#ff0000"/>
<rect x="500" y="80" width="1" height="34" fill="#ff0000"/>
<rect x="498" y="85" width="5" height="11" fill="#ff0000"/>
<rect x="508" y="69" width="1" height="23" fill="#00fa7d"/>
<rect x="506" y="85" width="5" height="6" fill="#00fa7d"/>
<rect x="516" y="86" width="1" height="7" fill="#00fa7d"/>
<rect x="514" y="89" width="5" height="3" fill="#00fa7d"/>
<rect x="524" y="87" width="1" height="15" fill="#00fa7d"/>
<rect x="522" y="91" width="5" height="7" fill="#00fa7d"/>
<rect x="532" y="91" width="1" height="14" fill="#00fa7d"/>
<rect x="530" y="97" width="5" height="4" fill="#00fa7d"/>
<rect x="540" y="93" width="1" height="12" fill="#ff0000"/>
<rect x="538" y="99" width="5" height="2" fill="#ff0000"/>
<rect x="548" y="83" width="1" height="27" fill="#00fa7d"/>
<rect x="546" y="99" width="5" height="4" fill="#00fa7d"/>
<rect x="556" y="94" width="1" height="10" fill="#ff0000"/>
<rect x="554" y="95" width="5" height="8" fill="#ff0000"/>
<rect x="564" y="95" width="1" height="5" fill="#00fa7d"/>
<rect x="562" y="95" width="5" height="2" fill="#00fa7d"/>
<rect x="572" y="84" width="1" height="19" fill="#ff0000"/>
<rect x="570" y="90" width="5" height="7" fill="#ff0000"/>
<rect x="580" y="83" width="1" height="11" fill="#ff0000"/>
<rect x="578" y="85" width="5" height="6" fill="#ff0000"/>
<rect x="588" y="70" width="1" height="28" fill="#ff0000"/>
<rect x="586" y="74" width="5" height="12" fill="#ff0000"/>
<rect x="596" y="30" width="1" height="82" fill="#00fa7d"/>
<rect x="594" y="74" width="5" height="23" fill="#00fa7d"/>
<rect x="604" y="90" width="1" height="11" fill="#ff0000"/>
<rect x="602" y="93" width="5" height="4" fill="#ff0000"/>
<rect x="612" y="91" width="1" height="6" fill="#00fa7d"/>
<rect x="610" y="93" width="5" height="2" fill="#00fa7d"/>
<rect x="620" y="93" width="1" height="11" fill="#00fa7d"/>
<rect x="618" y="94" width="5" height="3" fill="#00fa7d"/>
<rect x="628" y="85" width="1" height="21" fill="#ff0000"/>
<rect x="626" y="88" width="5" height="9" fill="#ff0000"/>
<rect x="636" y="84" width="1" height="22" fill="#00fa7d"/>
<rect x="634" y="88" width="5" height="1" fill="#00fa7d"/>
<rect x="644" y="87" width="1" height="52" fill="#00fa7d"/>
<rect x="642" y="90" width="5" height="29" fill="#00fa7d"/>
<rect x="652" y="105" width="1" height="17" fill="#ff0000"/>
<rect x="650" y="117" width="5" height="2" fill="#ff0000"/>
<rect x="660" y="116" width="1" height="6" fill="#00fa7d"/>
<rect x="658" y="117" width="5" height="4" fill="#00fa7d"/>
<rect x="668" y="120" width="1" height="15" fill="#00fa7d"/>
<rect x="666" y="120" width="5" height="9" fill="#00fa7d"/>
<rect x="676" y="125" width="1" height="17" fill="#00fa7d"/>
<rect x="674" y="128" width="5" height="5" fill="#00fa7d"/>
<rect x="684" y="129" width="1" height="21" fill="#00fa7d"/>
<rect x="682" y="131" width="5" height="3" fill="#00fa7d"/>
<rect x="692" y="127" width="1" height="138" fill="#00fa7d"/>
<rect x="690" y="133" width="5" height="122" fill="#00fa7d"/>
<rect x="700" y="242" width="1" height="23" fill="#ff0000"/>
<rect x="698" y="248" width="5" height="7" fill="#ff0000"/>
<rect x="708" y="369" width="1" height="141" fill="#ff0000"/>
<rect x="706" y="393" width="5" height="51" fill="#ff0000"/>
<rect x="716" y="319" width="1" height="119" fill="#ff0000"/>
<rect x="714" y="331" width="5" height="57" fill="#ff0000"/>
<rect x="724" y="284" width="1" height="50" fill="#ff0000"/>
<rect x="722" y="295" width="5" height="37" fill="#ff0000"/>
<rect x="732" y="293" width="1" height="36" fill="#00fa7d"/>
<rect x="730" y="295" width="5" height="17" fill="#00fa7d"/>
<rect x="740" y="297" width="1" height="73" fill="#00fa7d"/>
<rect x="738" y="311" width="5" height="51" fill="#00fa7d"/>
<rect x="748" y="351" width="1" height="26" fill="#ff0000"/>
<rect x="746" y="361" width="5" height="2" fill="#ff0000"/>
<rect x="756" y="346" width="1" height="16" fill="#ff0000"/>
<rect x="754" y="352" width="5" height="10" fill="#ff0000"/>
<rect x="764" y="332" width="1" height="23" fill="#ff0000"/>
<rect x="762" y="333" width="5" height="20" fill="#ff0000"/>
<rect x="772" y="330" width="1" height="19" fill="#00fa7d"/>
<rect x="770" y="333" width="5" height="6" fill="#00fa7d"/>
<rect x="780" y="338" width="1" height="27" fill="#00fa7d"/>
<rect x="778" y="338" width="5" height="12" fill="#00fa7d"/>
<rect x="788" y="345" width="1" height="52" fill="#00fa7d"/>
<rect x="786" y="349" width="5" height="4" fill="#00fa7d"/>
<rect x="796" y="349" width="1" height="14" fill="#00fa7d"/>
<rect x="794" y="352" width="5" height="8" fill="#00fa7d"/>
<rect x="804" y="357" width="1" height="10" fill="#00fa7d"/>
<rect x="802" y="359" width="5" height="8" fill="#00fa7d"/>
<rect x="812" y="340" width="1" height="36" fill="#ff0000"/>
<rect x="810" y="344" width="5" height="23" fill="#ff0000"/>
<rect x="820" y="342" width="1" height="19" fill="#00fa7d"/>
<rect x="818" y="345" width="5" height="4" fill="#00fa7d"/>
<rect x="828" y="329" width="1" height="25" fill="#ff0000"/>
<rect x="826" y="332" width="5" height="17" fill="#ff0000"/>
<rect x="836" y="285" width="1" height="57" fill="#ff0000"/>
<rect x="834" y="286" width="5" height="47" fill="#ff0000"/>
<rect x="844" y="278" width="1" height="23" fill="#ff0000"/>
<rect x="842" y="283" width="5" height="5" fill="#ff0000"/>
<rect x="852" y="283" width="1" height="8" fill="#00fa7d"/>
<rect x="850" y="283" width="5" height="3" fill="#00fa7d"/>
<rect x="860" y="281" width="1" height="15" fill="#00fa7d"/>
<rect x="858" y="285" width="5" height="6" fill="#00fa7d"/>
<rect x="868" y="266" width="1" height="25" fill="#ff0000"/>
<rect x="866" y="270" width="5" height="21" fill="#ff0000"/>
<rect x="876" y="268" width="1" height="27" fill="#00fa7d"/>
<rect x="874" y="271" width="5" height="24" fill="#00fa7d"/>
<rect x="884" y="285" width="1" height="35" fill="#ff0000"/>
<rect x="882" y="287" width="5" height="8" fill="#ff0000"/>
<rect x="892" y="280" width="1" height="15" fill="#ff0000"/>
<rect x="890" y="281" width="5" height="7" fill="#ff0000"/>
<rect x="900" y="279" width="1" height="6" fill="#00fa7d"/>
<rect x="898" y="281" width="5" height="1" fill="#00fa7d"/>
<rect x="908" y="270" width="1" height="18" fill="#ff0000"/>
<rect x="906" y="275" width="5" height="7" fill="#ff0000"/>
<rect x="916" y="259" width="1" height="20" fill="#ff0000"/>
<rect x="914" y="268" width="5" height="9" fill="#ff0000"/>
<rect x="924" y="255" width="1" height="20" fill="#ff0000"/>
<rect x="922" y="263" width="5" height="6" fill="#ff0000"/>
<rect x="932" y="203" width="1" height="68" fill="#ff0000"/>
<rect x="930" y="207" width="5" height="56" fill="#ff0000"/>
<rect x="940" y="198" width="1" height="12" fill="#ff0000"/>
<rect x="938" y="206" width="5" height="2" fill="#ff0000"/>
<rect x="948" y="196" width="1" height="6" fill="#00fa7d"/>
<rect x="946" y="199" width="5" height="2" fill="#00fa7d"/>
<rect x="956" y="188" width="1" height="20" fill="#00fa7d"/>
<rect x="954" y="200" width="5" height="7" fill="#00fa7d"/>
<rect x="964" y="204" width="1" height="19" fill="#00fa7d"/>
<rect x="962" y="206" width="5" height="8" fill="#00fa7d"/>
<rect x="972" y="206" width="1" height="20" fill="#00fa7d"/>
<rect x="970" y="213" width="5" height="9" fill="#00fa7d"/>
<rect x="980" y="166" width="1" height="57" fill="#ff0000"/>
<rect x="978" y="176" width="5" height="46" fill="#ff0000"/>
<rect x="988" y="169" width="1" height="10" fill="#ff0000"/>
<rect x="986" y="172" width="5" height="5" fill="#ff0000"/>
<rect x="996" y="169" width="1" height="7" fill="#ff0000"/>
<rect x="994" y="172" width="5" height="1" fill="#ff0000"/>
<rect x="1004" y="168" width="1" height="15" fill="#00fa7d"/>
<rect x="1002" y="172" width="5" height="6" fill="#00fa7d"/>
<rect x="1012" y="147" width="1" height="32" fill="#ff0000"/>
<rect x="1010" y="154" width="5" height="24" fill="#ff0000"/>
<rect x="1020" y="146" width="1" height="16" fill="#00fa7d"/>
<rect x="1018" y="154" width="5" height="7" fill="#00fa7d"/>
<rect x="1028" y="149" width="1" height="46" fill="#00fa7d"/>
<rect x="1026" y="159" width="5" height="29" fill="#00fa7d"/>
<rect x="1036" y="176" width="1" height="14" fill="#ff0000"/>
<rect x="1034" y="180" width="5" height="8" fill="#ff0000"/>
<rect x="1044" y="174" width="1" height="8" fill="#ff0000"/>
<rect x="1042" y="176" width="5" height="4" fill="#ff0000"/>
<rect x="1052" y="156" width="1" height="25" fill="#ff0000"/>
<rect x="1050" y="163" width="5" height="14" fill="#ff0000"/>
<rect x="1060" y="152" width="1" height="20" fill="#ff0000"/>
<rect x="1058" y="163" width="5" height="1" fill="#ff0000"/>
<rect x="1068" y="163" width="1" height="25" fill="#00fa7d"/>
<rect x="1066" y="163" width="5" height="11" fill="#00fa7d"/>
<rect x="1076" y="160" width="1" height="45" fill="#00fa7d"/>
<rect x="1074" y="173" width="5" height="11" fill="#00fa7d"/>
<rect x="1084" y="163" width="1" height="32" fill="#ff0000"/>
<rect x="1082" y="175" width="5" height="9" fill="#ff0000"/>
<rect x="1092" y="167" width="1" height="12" fill="#ff0000"/>
<rect x="1090" y="172" width="5" height="4" fill="#ff0000"/>
<rect x="1100" y="172" width="1" height="42" fill="#00fa7d"/>
<rect x="1098" y="172" width="5" height="25" fill="#00fa7d"/>
<rect x="1108" y="187" width="1" height="24" fill="#ff0000"/>
<rect x="1106" y="191" width="5" height="6" fill="#ff0000"/>
<rect x="1116" y="164" width="1" height="40" fill="#ff0000"/>
<rect x="1114" y="174" width="5" height="18" fill="#ff0000"/>
<rect x="1124" y="156" width="1" height="50" fill="#00fa7d"/>
<rect x="1122" y="174" width="5" height="13" fill="#00fa7d"/>
<rect x="1132" y="186" width="1" height="22" fill="#00fa7d"/>
<rect x="1130" y="186" width="5" height="8" fill="#00fa7d"/>
<rect x="1140" y="190" width="1" height="11" fill="#00fa7d"/>
<rect x="1138" y="192" width="5" height="8" fill="#00fa7d"/>
<rect x="1148" y="178" width="1" height="22" fill="#ff0000"/>
<rect x="1146" y="179" width="5" height="21" fill="#ff0000"/>
<rect x="1156" y="169" width="1" height="15" fill="#ff0000"/>
<rect x="1154" y="179" width="5" height="2" fill="#ff0000"/>
<rect x="1164" y="173" width="1" height="24" fill="#00fa7d"/>
<rect x="1162" y="179" width="5" height="3" fill="#00fa7d"/>
<rect x="1172" y="174" width="1" height="28" fill="#ff0000"/>
<rect x="1170" y="180" width="5" height="2" fill="#ff0000"/>
<rect x="1180" y="174" width="1" height="17" fill="#00fa7d"/>
<rect x="1178" y="181" width="5" height="7" fill="#00fa7d"/>
<rect x="1188" y="198" width="1" height="7" fill="#ff0000"/>
<rect x="1186" y="200" width="5" height="3" fill="#ff0000"/>
<rect x="1196" y="168" width="1" height="40" fill="#ff0000"/>
<rect x="1194" y="174" width="5" height="27" fill="#ff0000"/>
<rect x="1204" y="169" width="1" height="14" fill="#00fa7d"/>
<rect x="1202" y="174" width="5" height="7" fill="#00fa7d"/>
<rect x="1212" y="154" width="1" height="28" fill="#ff0000"/>
<rect x="1210" y="161" width="5" height="20" fill="#ff0000"/>
<rect x="1220" y="111" width="1" height="54" fill="#ff0000"/>
<rect x="1218" y="117" width="5" height="45" fill="#ff0000"/>
<rect x="1228" y="114" width="1" height="11" fill="#00fa7d"/>
<rect x="1226" y="117" width="5" height="4" fill="#00fa7d"/>
<rect x="1236" y="112" width="1" height="9" fill="#ff0000"/>
<rect x="1234" y="116" width="5" height="5" fill="#ff0000"/>
<rect x="1244" y="116" width="1" height="14" fill="#00fa7d"/>
<rect x="1242" y="117" width="5" height="12" fill="#00fa7d"/>
<rect x="1252" y="115" width="1" height="15" fill="#ff0000"/>
<rect x="1250" y="125" width="5" height="4" fill="#ff0000"/>
<rect x="1260" y="113" width="1" height="17" fill="#ff0000"/>
<rect x="1258" y="118" width="5" height="8" fill="#ff0000"/>
<rect x="1268" y="101" width="1" height="27" fill="#ff0000"/>
<rect x="1266" y="110" width="5" height="9" fill="#ff0000"/>
<rect x="1276" y="108" width="1" height="15" fill="#00fa7d"/>
<rect x="1274" y="110" width="5" height="12" fill="#00fa7d"/>
<rect x="1284" y="119" width="1" height="10" fill="#00fa7d"/>
<rect x="1282" y="121" width="5" height="6" fill="#00fa7d"/>
<rect x="1292" y="123" width="1" height="30" fill="#00fa7d"/>
<rect x="1290" y="126" width="5" height="23" fill="#00fa7d"/>
<rect x="1300" y="140" width="1" height="19" fill="#00fa7d"/>
<rect x="1298" y="148" width="5" height="3" fill="#00fa7d"/>
<rect x="1308" y="144" width="1" height="20" fill="#00fa7d"/>
<rect x="1306" y="149" width="5" height="1" fill="#00fa7d"/>
<rect x="1316" y="139" width="1" height="50" fill="#00fa7d"/>
<rect x="1314" y="149" width="5" height="19" fill="#00fa7d"/>
<rect x="1324" y="154" width="1" height="16" fill="#ff0000"/>
<rect x="1322" y="161" width="5" height="7" fill="#ff0000"/>
<rect x="1332" y="160" width="1" height="5" fill="#00fa7d"/>
<rect x="1330" y="161" width="5" height="2" fill="#00fa7d"/>
</g>
<path d="M4 68.5h13M17 69.5h8M25 70.5h16M41 71.5h8M49 72.5h6M55 73.5h4M520 73.5h25M59 74.5h3M515 74.5h5M545 74.5h8M62 75.5h3M512 75.5h3M553 75.5h6M65 76.5h2M510 76.5h2M559 76.5h4M67 77.5h3M506 77.5h4M563 77.5h3M70 78.5h3M502 78.5h4M566 78.5h3M73 79.5h2M496 79.5h6M569 79.5h2M75 80.5h3M490 80.5h6M571 80.5h4M78 81.5h3M486 81.5h4M575 81.5h4M81 82.5h2M480 82.5h6M579 82.5h4M83 83.5h4M474 83.5h6M583 83.5h4M87 84.5h4M470 84.5h4M587 84.5h4M91 85.5h3M467 85.5h3M591 85.5h4M94 86.5h3M464 86.5h3M595 86.5h3M97 87.5h2M462 87.5h2M598 87.5h3M99 88.5h3M458 88.5h4M601 88.5h2M102 89.5h2M454 89.5h4M603 89.5h4M104 90.5h2M451 90.5h3M607 90.5h4M106 91.5h2M448 91.5h3M611 91.5h4M108 92.5h2M446 92.5h2M615 92.5h4M110 93.5h2M444 93.5h2M619 93.5h22M112 94.5h2M442 94.5h2M641 94.5h8M114 95.5h2M440 95.5h2M649 95.5h8M116 96.5h2M439 96.5h1M657 96.5h6M118 97.5h3M437 97.5h2M663 97.5h4M121 98.5h2M435 98.5h2M667 98.5h4M123 99.5h3M433 99.5h2M671 99.5h4M126 100.5h3M431 100.5h2M675 100.5h4M129 101.5h2M429 101.5h2M679 101.5h4M131 102.5h4M427 102.5h2M683 102.5h2M135 103.5h4M425 103.5h2M685 103.5h1M139 104.5h3M423 104.5h2M686 104.5h1M142 105.5h3M421 105.5h2M687 105.5h2M145 106.5h2M420 106.5h1M689 106.5h1M147 107.5h4M418 107.5h2M690 107.5h1M151 108.5h4M176 108.5h9M416 108.5h2M691 108.5h1M155 109.5h21M185 109.5h8M415 109.5h1M692 109.5h1M193 110.5h6M413 110.5h2M693 110.5h1M199 111.5h4M411 111.5h2M694 111.5h1M203 112.5h4M408 112.5h3M695 112.5h1M207 113.5h4M406 113.5h2M696 113.5h1M211 114.5h4M403 114.5h3M697 114.5h1M215 115.5h4M400 115.5h3M698 115.5h1M219 116.5h3M398 116.5h2M699 116.5h1M222 117.5h3M395 117.5h3M700 117.5h1M225 118.5h2M392 118.5h3M701 118.5h1M227 119.5h28M390 119.5h2M701 119.5h1M255 120.5h4M387 120.5h3M702 120.5h1M259 121.5h6M384 121.5h3M702 121.5h1M265 122.5h8M382 122.5h2M703 122.5h1M273 123.5h8M378 123.5h4M704 123.5h1M281 124.5h16M374 124.5h4M704 124.5h1M297 125.5h40M370 125.5h4M705 125.5h1M337 126.5h8M366 126.5h4M706 126.5h1M345 127.5h21M706 127.5h1M707 128.5h1M707 129.5h1M708 130.5h1M709 131.5h1M709 132.5h1M710 133.5h1M711 134.5h1M712 135.5h1M712 136.5h1M713 137.5h1M714 138.5h1M715 139.5h1M715 140.5h1M716 141.5h1M717 142.5h1M718 143.5h1M718 144.5h1M719 145.5h1M720 146.5h1M721 147.5h1M722 148.5h1M1328 148.5h4M722 149.5h1M1312 149.5h16M723 150.5h1M1306 150.5h6M724 151.5h1M1302 151.5h4M725 152.5h1M1298 152.5h4M726 153.5h1M1294 153.5h4M726 154.5h1M1290 154.5h4M727 155.5h1M1286 155.5h4M728 156.5h1M1282 156.5h4M729 157.5h1M1278 157.5h4M730 158.5h1M1275 158.5h3M730 159.5h1M1273 159.5h2M731 160.5h1M1271 160.5h2M732 161.5h1M1269 161.5h2M733 162.5h1M1267 162.5h2M733 163.5h1M1265 163.5h2M734 164.5h1M1263 164.5h2M735 165.5h1M1261 165.5h2M735 166.5h1M1258 166.5h3M736 167.5h1M1254 167.5h4M737 168.5h1M1251 168.5h3M737 169.5h1M1248 169.5h3M738 170.5h1M1246 170.5h2M739 171.5h1M1242 171.5h4M739 172.5h1M1238 172.5h4M740 173.5h1M1235 173.5h3M741 174.5h1M1232 174.5h3M741 175.5h1M1230 175.5h2M742 176.5h1M1226 176.5h4M742 177.5h1M1136 177.5h17M1222 177.5h4M743 178.5h1M1128 178.5h8M1153 178.5h22M1216 178.5h6M744 179.5h1M1120 179.5h8M1175 179.5h4M1210 179.5h6M744 180.5h1M1112 180.5h8M1179 180.5h4M1206 180.5h4M745 181.5h1M1104 181.5h8M1183 181.5h4M1192 181.5h14M746 182.5h1M1098 182.5h6M1187 182.5h5M746 183.5h1M1094 183.5h4M747 184.5h1M1091 184.5h3M747 185.5h1M1089 185.5h2M748 186.5h1M1087 186.5h2M749 187.5h1M1085 187.5h2M749 188.5h1M1083 188.5h2M750 189.5h1M1081 189.5h2M750 190.5h1M1079 190.5h2M751 191.5h1M1077 191.5h2M751 192.5h1M1075 192.5h2M752 193.5h1M1073 193.5h2M752 194.5h1M1071 194.5h2M753 195.5h1M1069 195.5h2M753 196.5h1M1068 196.5h1M754 197.5h1M1066 197.5h2M754 198.5h1M1065 198.5h1M755 199.5h1M1064 199.5h1M755 200.5h1M1062 200.5h2M756 201.5h1M1061 201.5h1M757 202.5h1M1060 202.5h1M757 203.5h1M1058 203.5h2M758 204.5h1M1056 204.5h2M759 205.5h1M1055 205.5h1M760 206.5h1M1053 206.5h2M760 207.5h1M1052 207.5h1M761 208.5h1M1050 208.5h2M762 209.5h1M1048 209.5h2M763 210.5h1M1047 210.5h1M763 211.5h1M1045 211.5h2M764 212.5h1M1044 212.5h1M765 213.5h1M1042 213.5h2M765 214.5h1M1041 214.5h1M766 215.5h1M1040 215.5h1M767 216.5h1M1038 216.5h2M768 217.5h1M1037 217.5h1M768 218.5h1M1035 218.5h2M769 219.5h1M1033 219.5h2M770 220.5h1M1031 220.5h2M771 221.5h1M1029 221.5h2M771 222.5h1M1028 222.5h1M772 223.5h1M1026 223.5h2M773 224.5h1M1024 224.5h2M773 225.5h1M1023 225.5h1M774 226.5h1M1021 226.5h2M775 227.5h1M1020 227.5h1M775 228.5h1M1018 228.5h2M776 229.5h1M1017 229.5h1M777 230.5h1M1016 230.5h1M777 231.5h1M1014 231.5h2M778 232.5h1M1013 232.5h1M779 233.5h1M1012 233.5h1M779 234.5h1M1010 234.5h2M780 235.5h1M1008 235.5h2M781 236.5h1M1007 236.5h1M781 237.5h1M1005 237.5h2M782 238.5h1M1004 238.5h1M782 239.5h1M1003 239.5h1M783 240.5h1M1002 240.5h1M784 241.5h1M1000 241.5h2M784 242.5h1M999 242.5h1M785 243.5h1M998 243.5h1M786 244.5h1M997 244.5h1M786 245.5h1M996 245.5h1M787 246.5h1M995 246.5h1M787 247.5h1M994 247.5h1M788 248.5h1M992 248.5h2M789 249.5h1M991 249.5h1M789 250.5h1M990 250.5h1M790 251.5h1M989 251.5h1M790 252.5h1M988 252.5h1M791 253.5h1M987 253.5h1M792 254.5h1M986 254.5h1M792 255.5h1M985 255.5h1M793 256.5h1M984 256.5h1M794 257.5h1M983 257.5h1M794 258.5h1M982 258.5h1M795 259.5h1M981 259.5h1M795 260.5h1M980 260.5h1M796 261.5h1M979 261.5h1M797 262.5h1M978 262.5h1M797 263.5h1M977 263.5h1M798 264.5h1M976 264.5h1M799 265.5h1M975 265.5h1M799 266.5h1M974 266.5h1M800 267.5h1M973 267.5h1M801 268.5h1M972 268.5h1M801 269.5h1M971 269.5h1M802 270.5h1M970 270.5h1M803 271.5h1M969 271.5h1M803 272.5h1M968 272.5h1M804 273.5h1M967 273.5h1M805 274.5h1M966 274.5h1M805 275.5h1M965 275.5h1M806 276.5h1M964 276.5h1M807 277.5h1M963 277.5h1M808 278.5h1M962 278.5h1M808 279.5h1M960 279.5h2M809 280.5h1M959 280.5h1M810 281.5h1M958 281.5h1M811 282.5h1M957 282.5h1M811 283.5h1M956 283.5h1M812 284.5h1M954 284.5h2M813 285.5h1M953 285.5h1M813 286.5h1M952 286.5h1M814 287.5h1M950 287.5h2M815 288.5h1M949 288.5h1M816 289.5h1M948 289.5h1M816 290.5h1M947 290.5h1M817 291.5h1M946 291.5h1M818 292.5h1M944 292.5h2M819 293.5h1M943 293.5h1M819 294.5h1M942 294.5h1M820 295.5h1M941 295.5h1M821 296.5h1M940 296.5h1M821 297.5h1M939 297.5h1M822 298.5h1M938 298.5h1M823 299.5h1M936 299.5h2M824 300.5h1M935 300.5h1M824 301.5h1M934 301.5h1M825 302.5h1M933 302.5h1M826 303.5h1M932 303.5h1M827 304.5h1M930 304.5h2M827 305.5h1M929 305.5h1M828 306.5h1M928 306.5h1M829 307.5h1M926 307.5h2M830 308.5h1M925 308.5h1M831 309.5h2M923 309.5h2M833 310.5h1M921 310.5h2M834 311.5h1M919 311.5h2M835 312.5h1M917 312.5h2M836 313.5h1M915 313.5h2M837 314.5h1M913 314.5h2M838 315.5h1M911 315.5h2M839 316.5h2M909 316.5h2M841 317.5h1M908 317.5h1M842 318.5h1M906 318.5h2M843 319.5h1M904 319.5h2M844 320.5h1M903 320.5h1M845 321.5h1M901 321.5h2M846 322.5h1M896 322.5h5M847 323.5h1M888 323.5h8M848 324.5h1M882 324.5h6M849 325.5h1M878 325.5h4M850 326.5h1M875 326.5h3M851 327.5h1M872 327.5h3M852 328.5h5M870 328.5h2M857 329.5h13" fill="none" stroke="#ffa500" stroke-width="1" shape-rendering="crispEdges"/>
<path d="M96 92.5h47M80 93.5h16M143 93.5h4M160 93.5h17M42 94.5h38M147 94.5h13M177 94.5h80M38 95.5h4M257 95.5h8M32 96.5h6M265 96.5h8M24 97.5h8M273 97.5h16M4 98.5h20M289 98.5h8M632 98.5h49M297 99.5h8M616 99.5h16M681 99.5h8M305 100.5h8M592 100.5h24M689 100.5h5M313 101.5h6M584 101.5h8M694 101.5h3M319 102.5h4M568 102.5h16M697 102.5h2M323 103.5h6M552 103.5h16M699 103.5h3M329 104.5h6M544 104.5h8M702 104.5h2M335 105.5h4M448 105.5h41M520 105.5h24M704 105.5h2M339 106.5h6M440 106.5h8M489 106.5h31M706 106.5h2M345 107.5h6M434 107.5h6M708 107.5h2M351 108.5h4M430 108.5h4M710 108.5h3M355 109.5h6M424 109.5h6M713 109.5h2M361 110.5h8M408 110.5h16M715 110.5h3M369 111.5h8M400 111.5h8M718 111.5h3M377 112.5h23M721 112.5h2M723 113.5h3M726 114.5h2M728 115.5h2M730 116.5h2M732 117.5h2M734 118.5h2M736 119.5h2M738 120.5h2M740 121.5h2M742 122.5h2M744 123.5h2M746 124.5h2M748 125.5h2M750 126.5h2M752 127.5h2M754 128.5h2M756 129.5h2M758 130.5h2M760 131.5h2M762 132.5h2M764 133.5h2M766 134.5h2M768 135.5h2M770 136.5h2M772 137.5h2M774 138.5h2M776 139.5h2M778 140.5h2M780 141.5h2M782 142.5h2M784 143.5h2M786 144.5h2M788 145.5h2M790 146.5h3M793 147.5h2M795 148.5h2M797 149.5h2M799 150.5h1M800 151.5h1M801 152.5h2M803 153.5h1M804 154.5h1M805 155.5h2M807 156.5h2M809 157.5h1M810 158.5h2M812 159.5h2M814 160.5h2M816 161.5h2M818 162.5h2M820 163.5h1M821 164.5h2M823 165.5h2M825 166.5h1M826 167.5h2M828 168.5h2M830 169.5h2M832 170.5h2M834 171.5h2M836 172.5h2M838 173.5h2M840 174.5h2M842 175.5h2M844 176.5h1M1331 176.5h1M845 177.5h2M1328 177.5h3M847 178.5h2M1326 178.5h2M849 179.5h1M1322 179.5h4M850 180.5h2M1318 180.5h4M852 181.5h2M1314 181.5h4M854 182.5h2M1310 182.5h4M856 183.5h2M1306 183.5h4M858 184.5h2M1302 184.5h4M860 185.5h1M1299 185.5h3M861 186.5h2M1296 186.5h3M863 187.5h2M1294 187.5h2M865 188.5h1M1291 188.5h3M866 189.5h2M1288 189.5h3M868 190.5h2M1286 190.5h2M870 191.5h2M1282 191.5h4M872 192.5h2M1278 192.5h4M874 193.5h2M1275 193.5h3M876 194.5h1M1272 194.5h3M877 195.5h2M1270 195.5h2M879 196.5h2M1267 196.5h3M881 197.5h1M1265 197.5h2M882 198.5h2M1263 198.5h2M884 199.5h2M1261 199.5h2M886 200.5h2M1259 200.5h2M888 201.5h2M1257 201.5h2M890 202.5h2M1255 202.5h2M892 203.5h2M1253 203.5h2M894 204.5h2M1251 204.5h2M896 205.5h2M1249 205.5h2M898 206.5h2M1247 206.5h2M900 207.5h2M1245 207.5h2M902 208.5h3M1243 208.5h2M905 209.5h2M1241 209.5h2M907 210.5h3M1239 210.5h2M910 211.5h3M1237 211.5h2M913 212.5h2M1235 212.5h2M915 213.5h3M1233 213.5h2M918 214.5h3M1231 214.5h2M921 215.5h2M1229 215.5h2M923 216.5h4M1228 216.5h1M927 217.5h4M1226 217.5h2M931 218.5h3M1224 218.5h2M934 219.5h3M1223 219.5h1M937 220.5h2M1221 220.5h2M939 221.5h4M1219 221.5h2M943 222.5h4M1217 222.5h2M947 223.5h4M1215 223.5h2M951 224.5h4M1213 224.5h2M955 225.5h4M1211 225.5h2M959 226.5h4M1209 226.5h2M963 227.5h4M1207 227.5h2M967 228.5h4M1205 228.5h2M971 229.5h6M1203 229.5h2M977 230.5h8M1200 230.5h3M985 231.5h6M1198 231.5h2M991 232.5h4M1195 232.5h3M995 233.5h6M1192 233.5h3M1001 234.5h6M1190 234.5h2M1007 235.5h4M1186 235.5h4M1011 236.5h6M1182 236.5h4M1017 237.5h6M1179 237.5h3M1023 238.5h4M1176 238.5h3M1027 239.5h4M1174 239.5h2M1031 240.5h4M1171 240.5h3M1035 241.5h6M1168 241.5h3M1041 242.5h8M1166 242.5h2M1049 243.5h6M1162 243.5h4M1055 244.5h4M1158 244.5h4M1059 245.5h6M1155 245.5h3M1065 246.5h6M1152 246.5h3M1071 247.5h4M1150 247.5h2M1075 248.5h6M1147 248.5h3M1081 249.5h8M1145 249.5h2M1089 250.5h8M1143 250.5h2M1097 251.5h8M1141 251.5h2M1105 252.5h8M1136 252.5h5M1113 253.5h8M1128 253.5h8M1121 254.5h7" fill="none" stroke="#ff00ff" stroke-width="1" shape-rendering="crispEdges"/>
<path d="M4 62.5h5M9 63.5h6M15 64.5h4M19 65.5h6M25 66.5h6M31 67.5h4M35 68.5h6M41 69.5h6M47 70.5h4M51 71.5h6M57 72.5h6M63 73.5h4M67 74.5h6M73 75.5h8M81 76.5h8M89 77.5h8M97 78.5h8M105 79.5h8M113 80.5h8M121 81.5h6M127 82.5h4M131 83.5h4M135 84.5h4M139 85.5h6M145 86.5h6M151 87.5h4M155 88.5h6M161 89.5h8M169 90.5h8M177 91.5h8M185 92.5h6M191 93.5h4M195 94.5h4M199 95.5h4M203 96.5h6M209 97.5h6M215 98.5h4M219 99.5h6M225 100.5h6M231 101.5h4M235 102.5h6M241 103.5h6M247 104.5h4M251 105.5h6M257 106.5h6M263 107.5h4M267 108.5h6M273 109.5h6M279 110.5h4M283 111.5h6M289 112.5h8M297 113.5h6M303 114.5h4M307 115.5h6M313 116.5h6M319 117.5h4M323 118.5h6M329 119.5h8M337 120.5h6M343 121.5h4M347 122.5h6M353 123.5h8M361 124.5h8M369 125.5h8M377 126.5h8M385 127.5h8M393 128.5h8M401 129.5h8M409 130.5h16M425 131.5h16M680 131.5h9M441 132.5h8M656 132.5h24M689 132.5h16M449 133.5h16M632 133.5h24M705 133.5h8M465 134.5h8M624 134.5h8M713 134.5h16M473 135.5h8M608 135.5h16M729 135.5h16M481 136.5h16M592 136.5h16M745 136.5h8M497 137.5h8M576 137.5h16M753 137.5h16M505 138.5h16M560 138.5h16M769 138.5h8M521 139.5h39M777 139.5h8M785 140.5h16M801 141.5h8M809 142.5h16M825 143.5h8M833 144.5h16M1032 144.5h89M849 145.5h8M1008 145.5h24M1121 145.5h48M857 146.5h16M992 146.5h16M1169 146.5h24M873 147.5h24M976 147.5h16M1193 147.5h120M897 148.5h24M944 148.5h32M1313 148.5h19M921 149.5h23" fill="none" stroke="#ff0000" stroke-width="1" shape-rendering="crispEdges"/>
<g shape-rendering="crispEdges">
<rect x="4" y="34" width="1680" height="2" fill="#ff0000"/>
<rect x="4" y="130" width="1680" height="2" fill="#32cd32"/>
<rect x="4" y="243" width="1680" height="2" fill="#4169e1"/>
<rect x="4" y="355" width="1680" height="2" fill="#4169e1"/>
<rect x="4" y="577" width="1" height="2" fill="#c0c0c0"/>
<rect x="12" y="577" width="1" height="4" fill="#c0c0c0"/>
<rect x="20" y="577" width="1" height="6" fill="#c0c0c0"/>
<rect x="28" y="577" width="1" height="6" fill="#c0c0c0"/>
<rect x="36" y="577" width="1" height="7" fill="#c0c0c0"/>
<rect x="44" y="577" width="1" height="3" fill="#c0c0c0"/>
<rect x="52" y="577" width="1" height="3" fill="#c0c0c0"/>
<rect x="60" y="577" width="1" height="3" fill="#c0c0c0"/>
<rect x="68" y="577" width="1" height="5" fill="#c0c0c0"/>
<rect x="76" y="577" width="1" height="5" fill="#c0c0c0"/>
<rect x="84" y="577" width="1" height="6" fill="#c0c0c0"/>
<rect x="92" y="577" width="1" height="7" fill="#c0c0c0"/>
<rect x="100" y="577" width="1" height="8" fill="#c0c0c0"/>
<rect x="108" y="577" width="1" height="12" fill="#c0c0c0"/>
<rect x="116" y="577" width="1" height="13" fill="#c0c0c0"/>
<rect x="124" y="577" width="1" height="14" fill="#c0c0c0"/>
<rect x="132" y="577" width="1" height="15" fill="#c0c0c0"/>
<rect x="140" y="577" width="1" height="17" fill="#c0c0c0"/>
<rect x="148" y="577" width="1" height="18" fill="#c0c0c0"/>
<rect x="156" y="577" width="1" height="20" fill="#c0c0c0"/>
<rect x="164" y="577" width="1" height="17" fill="#c0c0c0"/>
<rect x="172" y="577" width="1" height="15" fill="#c0c0c0"/>
<rect x="180" y="577" width="1" height="13" fill="#c0c0c0"/>
<rect x="188" y="577" width="1" height="13" fill="#c0c0c0"/>
<rect x="196" y="577" width="1" height="10" fill="#c0c0c0"/>
<rect x="204" y="577" width="1" height="13" fill="#c0c0c0"/>
<rect x="212" y="577" width="1" height="13" fill="#c0c0c0"/>
<rect x="220" y="577" width="1" height="12" fill="#c0c0c0"/>
<rect x="228" y="577" width="1" height="12" fill="#c0c0c0"/>
<rect x="236" y="577" width="1" height="10" fill="#c0c0c0"/>
<rect x="244" y="577" width="1" height="8" fill="#c0c0c0"/>
<rect x="252" y="577" width="1" height="6" fill="#c0c0c0"/>
<rect x="260" y="577" width="1" height="8" fill="#c0c0c0"/>
<rect x="268" y="577" width="1" height="9" fill="#c0c0c0"/>
<rect x="276" y="577" width="1" height="10" fill="#c0c0c0"/>
<rect x="284" y="577" width="1" height="11" fill="#c0c0c0"/>
<rect x="292" y="577" width="1" height="12" fill="#c0c0c0"/>
<rect x="300" y="577" width="1" height="12" fill="#c0c0c0"/>
<rect x="308" y="577" width="1" height="12" fill="#c0c0c0"/>
<rect x="316" y="577" width="1" height="10" fill="#c0c0c0"/>
<rect x="324" y="577" width="1" height="9" fill="#c0c0c0"/>
<rect x="332" y="577" width="1" height="7" fill="#c0c0c0"/>
<rect x="340" y="577" width="1" height="7" fill="#c0c0c0"/>
<rect x="348" y="577" width="1" height="8" fill="#c0c0c0"/>
<rect x="356" y="577" width="1" height="7" fill="#c0c0c0"/>
<rect x="364" y="577" width="1" height="3" fill="#c0c0c0"/>
<rect x="380" y="574" width="1" height="4" fill="#c0c0c0"/>
<rect x="388" y="570" width="1" height="8" fill="#c0c0c0"/>
<rect x="396" y="563" width="1" height="15" fill="#c0c0c0"/>
<rect x="404" y="556" width="1" height="22" fill="#c0c0c0"/>
<rect x="412" y="551" width="1" height="27" fill="#c0c0c0"/>
<rect x="420" y="548" width="1" height="30" fill="#c0c0c0"/>
<rect x="428" y="546" width="1" height="32" fill="#c0c0c0"/>
<rect x="436" y="544" width="1" height="34" fill="#c0c0c0"/>
<rect x="444" y="544" width="1" height="34" fill="#c0c0c0"/>
<rect x="452" y="546" width="1" height="32" fill="#c0c0c0"/>
<rect x="460" y="553" width="1" height="25" fill="#c0c0c0"/>
<rect x="468" y="557" width="1" height="21" fill="#c0c0c0"/>
<rect x="476" y="561" width="1" height="17" fill="#c0c0c0"/>
<rect x="484" y="567" width="1" height="11" fill="#c0c0c0"/>
<rect x="492" y="570" width="1" height="8" fill="#c0c0c0"/>
<rect x="500" y="571" width="1" height="7" fill="#c0c0c0"/>
<rect x="508" y="572" width="1" height="6" fill="#c0c0c0"/>
<rect x="516" y="574" width="1" height="4" fill="#c0c0c0"/>
<rect x="524" y="576" width="1" height="2" fill="#c0c0c0"/>
<rect x="548" y="577" width="1" height="3" fill="#c0c0c0"/>
<rect x="556" y="577" width="1" height="3" fill="#c0c0c0"/>
<rect x="564" y="577" width="1" height="3" fill="#c0c0c0"/>
<rect x="572" y="577" width="1" height="2" fill="#c0c0c0"/>
<rect x="580" y="577" width="1" height="2" fill="#c0c0c0"/>
<rect x="644" y="577" width="1" height="4" fill="#c0c0c0"/>
<rect x="652" y="577" width="1" height="7" fill="#c0c0c0"/>
<rect x="660" y="577" width="1" height="9" fill="#c0c0c0"/>
<rect x="668" y="577" width="1" height="11" fill="#c0c0c0"/>
<rect x="676" y="577" width="1" height="14" fill="#c0c0c0"/>
<rect x="684" y="577" width="1" height="15" fill="#c0c0c0"/>
<rect x="692" y="577" width="1" height="31" fill="#c0c0c0"/>
<rect x="700" y="577" width="1" height="43" fill="#c0c0c0"/>
<rect x="708" y="577" width="1" height="69" fill="#c0c0c0"/>
<rect x="716" y="577" width="1" height="81" fill="#c0c0c0"/>
<rect x="724" y="577" width="1" height="85" fill="#c0c0c0"/>
<rect x="732" y="577" width="1" height="89" fill="#c0c0c0"/>
<rect x="740" y="577" width="1" height="98" fill="#c0c0c0"/>
<rect x="748" y="577" width="1" height="103" fill="#c0c0c0"/>
<rect x="756" y="577" width="1" height="105" fill="#c0c0c0"/>
<rect x="764" y="577" width="1" height="103" fill="#c0c0c0"/>
<rect x="772" y="577" width="1" height="101" fill="#c0c0c0"/>
<rect x="780" y="577" width="1" height="100" fill="#c0c0c0"/>
<rect x="788" y="577" width="1" height="98" fill="#c0c0c0"/>
<rect x="796" y="577" width="1" height="96" fill="#c0c0c0"/>
<rect x="804" y="577" width="1" height="94" fill="#c0c0c0"/>
<rect x="812" y="577" width="1" height="89" fill="#c0c0c0"/>
<rect x="820" y="577" width="1" height="85" fill="#c0c0c0"/>
<rect x="828" y="577" width="1" height="79" fill="#c0c0c0"/>
<rect x="836" y="577" width="1" height="67" fill="#c0c0c0"/>
<rect x="844" y="577" width="1" height="57" fill="#c0c0c0"/>
<rect x="852" y="577" width="1" height="49" fill="#c0c0c0"/>
<rect x="860" y="577" width="1" height="42" fill="#c0c0c0"/>
<rect x="868" y="577" width="1" height="34" fill="#c0c0c0"/>
<rect x="876" y="577" width="1" height="31" fill="#c0c0c0"/>
<rect x="884" y="577" width="1" height="26" fill="#c0c0c0"/>
<rect x="892" y="577" width="1" height="22" fill="#c0c0c0"/>
<rect x="900" y="577" width="1" height="19" fill="#c0c0c0"/>
<rect x="908" y="577" width="1" height="15" fill="#c0c0c0"/>
<rect x="916" y="577" width="1" height="11" fill="#c0c0c0"/>
<rect x="924" y="577" width="1" height="7" fill="#c0c0c0"/>
<rect x="932" y="575" width="1" height="3" fill="#c0c0c0"/>
<rect x="940" y="567" width="1" height="11" fill="#c0c0c0"/>
<rect x="948" y="561" width="1" height="17" fill="#c0c0c0"/>
<rect x="956" y="556" width="1" height="22" fill="#c0c0c0"/>
<rect x="964" y="554" width="1" height="24" fill="#c0c0c0"/>
<rect x="972" y="554" width="1" height="24" fill="#c0c0c0"/>
<rect x="980" y="548" width="1" height="30" fill="#c0c0c0"/>
<rect x="988" y="544" width="1" height="34" fill="#c0c0c0"/>
<rect x="996" y="540" width="1" height="38" fill="#c0c0c0"/>
<rect x="1004" y="539" width="1" height="39" fill="#c0c0c0"/>
<rect x="1012" y="535" width="1" height="43" fill="#c0c0c0"/>
<rect x="1020" y="534" width="1" height="44" fill="#c0c0c0"/>
<rect x="1028" y="537" width="1" height="41" fill="#c0c0c0"/>
<rect x="1036" y="538" width="1" height="40" fill="#c0c0c0"/>
<rect x="1044" y="540" width="1" height="38" fill="#c0c0c0"/>
<rect x="1052" y="539" width="1" height="39" fill="#c0c0c0"/>
<rect x="1060" y="540" width="1" height="38" fill="#c0c0c0"/>
<rect x="1068" y="542" width="1" height="36" fill="#c0c0c0"/>
<rect x="1076" y="545" width="1" height="33" fill="#c0c0c0"/>
<rect x="1084" y="547" width="1" height="31" fill="#c0c0c0"/>
<rect x="1092" y="548" width="1" height="30" fill="#c0c0c0"/>
<rect x="1100" y="553" width="1" height="25" fill="#c0c0c0"/>
<rect x="1108" y="556" width="1" height="22" fill="#c0c0c0"/>
<rect x="1116" y="556" width="1" height="22" fill="#c0c0c0"/>
<rect x="1124" y="558" width="1" height="20" fill="#c0c0c0"/>
<rect x="1132" y="561" width="1" height="17" fill="#c0c0c0"/>
<rect x="1140" y="564" width="1" height="14" fill="#c0c0c0"/>
<rect x="1148" y="565" width="1" height="13" fill="#c0c0c0"/>
<rect x="1156" y="565" width="1" height="13" fill="#c0c0c0"/>
<rect x="1164" y="566" width="1" height="12" fill="#c0c0c0"/>
<rect x="1172" y="566" width="1" height="12" fill="#c0c0c0"/>
<rect x="1180" y="568" width="1" height="10" fill="#c0c0c0"/>
<rect x="1188" y="570" width="1" height="8" fill="#c0c0c0"/>
<rect x="1196" y="569" width="1" height="9" fill="#c0c0c0"/>
<rect x="1204" y="569" width="1" height="9" fill="#c0c0c0"/>
<rect x="1212" y="567" width="1" height="11" fill="#c0c0c0"/>
<rect x="1220" y="561" width="1" height="17" fill="#c0c0c0"/>
<rect x="1228" y="556" width="1" height="22" fill="#c0c0c0"/>
<rect x="1236" y="552" width="1" height="26" fill="#c0c0c0"/>
<rect x="1244" y="550" width="1" height="28" fill="#c0c0c0"/>
<rect x="1252" y="549" width="1" height="29" fill="#c0c0c0"/>
<rect x="1260" y="548" width="1" height="30" fill="#c0c0c0"/>
<rect x="1268" y="546" width="1" height="32" fill="#c0c0c0"/>
<rect x="1276" y="547" width="1" height="31" fill="#c0c0c0"/>
<rect x="1284" y="548" width="1" height="30" fill="#c0c0c0"/>
<rect x="1292" y="552" width="1" height="26" fill="#c0c0c0"/>
<rect x="1300" y="556" width="1" height="22" fill="#c0c0c0"/>
<rect x="1308" y="559" width="1" height="19" fill="#c0c0c0"/>
<rect x="1316" y="563" width="1" height="15" fill="#c0c0c0"/>
<rect x="1324" y="567" width="1" height="11" fill="#c0c0c0"/>
<rect x="1332" y="569" width="1" height="9" fill="#c0c0c0"/>
</g>
<g shape-rendering="crispEdges" fill="#ff0000">
<rect x="1048" y="537" width="1" height="1"/>
<rect x="1052" y="537" width="3" height="1"/>
<rect x="1058" y="537" width="3" height="1"/>
<rect x="1064" y="537" width="3" height="1"/>
<rect x="1070" y="537" width="3" height="1"/>
<rect x="1042" y="538" width="1" height="1"/>
<rect x="1046" y="538" width="2" height="1"/>
<rect x="1076" y="538" width="3" height="1"/>
<rect x="1040" y="539" width="2" height="1"/>
<rect x="1082" y="539" width="3" height="1"/>
<rect x="1088" y="539" width="1" height="1"/>
<rect x="1034" y="540" width="3" height="1"/>
<rect x="1089" y="540" width="2" height="1"/>
<rect x="1094" y="540" width="1" height="1"/>
<rect x="1030" y="541" width="1" height="1"/>
<rect x="1095" y="541" width="2" height="1"/>
<rect x="1028" y="542" width="2" height="1"/>
<rect x="1100" y="542" width="3" height="1"/>
<rect x="1022" y="543" width="3" height="1"/>
<rect x="1106" y="543" width="3" height="1"/>
<rect x="1112" y="544" width="3" height="1"/>
<rect x="1016" y="545" width="3" height="1"/>
<rect x="1118" y="546" width="3" height="1"/>
<rect x="1011" y="547" width="2" height="1"/>
<rect x="466" y="548" width="3" height="1"/>
<rect x="472" y="548" width="1" height="1"/>
<rect x="1010" y="548" width="1" height="1"/>
<rect x="1124" y="548" width="3" height="1"/>
<rect x="460" y="549" width="3" height="1"/>
<rect x="473" y="549" width="2" height="1"/>
<rect x="478" y="549" width="3" height="1"/>
<rect x="1006" y="549" width="1" height="1"/>
<rect x="1130" y="549" width="1" height="1"/>
<rect x="1288" y="549" width="1" height="1"/>
<rect x="1292" y="549" width="3" height="1"/>
<rect x="1298" y="549" width="3" height="1"/>
<rect x="1304" y="549" width="1" height="1"/>
<rect x="454" y="550" width="3" height="1"/>
<rect x="484" y="550" width="2" height="1"/>
<rect x="1004" y="550" width="2" height="1"/>
<rect x="1131" y="550" width="2" height="1"/>
<rect x="1282" y="550" width="1" height="1"/>
<rect x="1286" y="550" width="2" height="1"/>
<rect x="1305" y="550" width="2" height="1"/>
<rect x="1310" y="550" width="3" height="1"/>
<rect x="486" y="551" width="1" height="1"/>
<rect x="1136" y="551" width="1" height="1"/>
<rect x="1280" y="551" width="2" height="1"/>
<rect x="1316" y="551" width="3" height="1"/>
<rect x="448" y="552" width="3" height="1"/>
<rect x="490" y="552" width="1" height="1"/>
<rect x="1000" y="552" width="1" height="1"/>
<rect x="1137" y="552" width="2" height="1"/>
<rect x="1274" y="552" width="3" height="1"/>
<rect x="1322" y="552" width="1" height="1"/>
<rect x="491" y="553" width="2" height="1"/>
<rect x="999" y="553" width="1" height="1"/>
<rect x="1142" y="553" width="1" height="1"/>
<rect x="1270" y="553" width="1" height="1"/>
<rect x="1323" y="553" width="2" height="1"/>
<rect x="443" y="554" width="2" height="1"/>
<rect x="496" y="554" width="1" height="1"/>
<rect x="998" y="554" width="1" height="1"/>
<rect x="1143" y="554" width="2" height="1"/>
<rect x="1268" y="554" width="2" height="1"/>
<rect x="1328" y="554" width="3" height="1"/>
<rect x="442" y="555" width="1" height="1"/>
<rect x="497" y="555" width="2" height="1"/>
<rect x="1148" y="555" width="3" height="1"/>
<rect x="1264" y="555" width="1" height="1"/>
<rect x="994" y="556" width="1" height="1"/>
<rect x="1154" y="556" width="1" height="1"/>
<rect x="1262" y="556" width="2" height="1"/>
<rect x="437" y="557" width="2" height="1"/>
<rect x="502" y="557" width="3" height="1"/>
<rect x="992" y="557" width="2" height="1"/>
<rect x="1155" y="557" width="2" height="1"/>
<rect x="1258" y="557" width="1" height="1"/>
<rect x="436" y="558" width="1" height="1"/>
<rect x="1160" y="558" width="3" height="1"/>
<rect x="1256" y="558" width="2" height="1"/>
<rect x="4" y="559" width="2" height="1"/>
<rect x="508" y="559" width="2" height="1"/>
<rect x="1166" y="559" width="1" height="1"/>
<rect x="1250" y="559" width="3" height="1"/>
<rect x="6" y="560" width="1" height="1"/>
<rect x="431" y="560" width="2" height="1"/>
<rect x="510" y="560" width="1" height="1"/>
<rect x="988" y="560" width="1" height="1"/>
<rect x="1167" y="560" width="2" height="1"/>
<rect x="1246" y="560" width="1" height="1"/>
<rect x="10" y="561" width="1" height="1"/>
<rect x="430" y="561" width="1" height="1"/>
<rect x="514" y="561" width="1" height="1"/>
<rect x="986" y="561" width="2" height="1"/>
<rect x="1172" y="561" width="3" height="1"/>
<rect x="1244" y="561" width="2" height="1"/>
<rect x="11" y="562" width="2" height="1"/>
<rect x="515" y="562" width="2" height="1"/>
<rect x="1178" y="562" width="3" height="1"/>
<rect x="1238" y="562" width="3" height="1"/>
<rect x="426" y="563" width="1" height="1"/>
<rect x="520" y="563" width="1" height="1"/>
<rect x="1184" y="563" width="3" height="1"/>
<rect x="1234" y="563" width="1" height="1"/>
<rect x="16" y="564" width="2" height="1"/>
<rect x="424" y="564" width="2" height="1"/>
<rect x="521" y="564" width="2" height="1"/>
<rect x="981" y="564" width="2" height="1"/>
<rect x="1190" y="564" width="3" height="1"/>
<rect x="1232" y="564" width="2" height="1"/>
<rect x="18" y="565" width="1" height="1"/>
<rect x="980" y="565" width="1" height="1"/>
<rect x="1196" y="565" width="3" height="1"/>
<rect x="1226" y="565" width="3" height="1"/>
<rect x="526" y="566" width="3" height="1"/>
<rect x="1202" y="566" width="3" height="1"/>
<rect x="1208" y="566" width="3" height="1"/>
<rect x="1214" y="566" width="3" height="1"/>
<rect x="1220" y="566" width="3" height="1"/>
<rect x="22" y="567" width="2" height="1"/>
<rect x="419" y="567" width="2" height="1"/>
<rect x="975" y="567" width="2" height="1"/>
<rect x="24" y="568" width="1" height="1"/>
<rect x="418" y="568" width="1" height="1"/>
<rect x="532" y="568" width="2" height="1"/>
<rect x="974" y="568" width="1" height="1"/>
<rect x="534" y="569" width="1" height="1"/>
<rect x="28" y="570" width="2" height="1"/>
<rect x="413" y="570" width="2" height="1"/>
<rect x="538" y="570" width="1" height="1"/>
<rect x="969" y="570" width="2" height="1"/>
<rect x="30" y="571" width="1" height="1"/>
<rect x="412" y="571" width="1" height="1"/>
<rect x="539" y="571" width="2" height="1"/>
<rect x="968" y="571" width="1" height="1"/>
<rect x="544" y="572" width="3" height="1"/>
<rect x="34" y="573" width="2" height="1"/>
<rect x="407" y="573" width="2" height="1"/>
<rect x="550" y="573" width="1" height="1"/>
<rect x="964" y="573" width="1" height="1"/>
<rect x="36" y="574" width="1" height="1"/>
<rect x="406" y="574" width="1" height="1"/>
<rect x="551" y="574" width="2" height="1"/>
<rect x="962" y="574" width="2" height="1"/>
<rect x="40" y="575" width="3" height="1"/>
<rect x="402" y="575" width="1" height="1"/>
<rect x="556" y="575" width="3" height="1"/>
<rect x="46" y="576" width="1" height="1"/>
<rect x="400" y="576" width="2" height="1"/>
<rect x="562" y="576" width="3" height="1"/>
<rect x="568" y="576" width="1" height="1"/>
<rect x="47" y="577" width="2" height="1"/>
<rect x="395" y="577" width="2" height="1"/>
<rect x="569" y="577" width="2" height="1"/>
<rect x="574" y="577" width="3" height="1"/>
<rect x="580" y="577" width="3" height="1"/>
<rect x="957" y="577" width="2" height="1"/>
<rect x="52" y="578" width="3" height="1"/>
<rect x="394" y="578" width="1" height="1"/>
<rect x="586" y="578" width="3" height="1"/>
<rect x="592" y="578" width="3" height="1"/>
<rect x="598" y="578" width="3" height="1"/>
<rect x="604" y="578" width="3" height="1"/>
<rect x="610" y="578" width="3" height="1"/>
<rect x="616" y="578" width="3" height="1"/>
<rect x="622" y="578" width="3" height="1"/>
<rect x="628" y="578" width="3" height="1"/>
<rect x="634" y="578" width="3" height="1"/>
<rect x="640" y="578" width="3" height="1"/>
<rect x="646" y="578" width="3" height="1"/>
<rect x="652" y="578" width="3" height="1"/>
<rect x="956" y="578" width="1" height="1"/>
<rect x="58" y="579" width="1" height="1"/>
<rect x="658" y="579" width="1" height="1"/>
<rect x="59" y="580" width="2" height="1"/>
<rect x="64" y="580" width="1" height="1"/>
<rect x="389" y="580" width="2" height="1"/>
<rect x="659" y="580" width="2" height="1"/>
<rect x="65" y="581" width="2" height="1"/>
<rect x="70" y="581" width="3" height="1"/>
<rect x="384" y="581" width="1" height="1"/>
<rect x="388" y="581" width="1" height="1"/>
<rect x="664" y="581" width="3" height="1"/>
<rect x="952" y="581" width="1" height="1"/>
<rect x="76" y="582" width="3" height="1"/>
<rect x="82" y="582" width="3" height="1"/>
<rect x="88" y="582" width="3" height="1"/>
<rect x="94" y="582" width="3" height="1"/>
<rect x="100" y="582" width="3" height="1"/>
<rect x="376" y="582" width="3" height="1"/>
<rect x="382" y="582" width="2" height="1"/>
<rect x="670" y="582" width="3" height="1"/>
<rect x="951" y="582" width="1" height="1"/>
<rect x="106" y="583" width="3" height="1"/>
<rect x="112" y="583" width="1" height="1"/>
<rect x="371" y="583" width="2" height="1"/>
<rect x="676" y="583" width="3" height="1"/>
<rect x="950" y="583" width="1" height="1"/>
<rect x="113" y="584" width="2" height="1"/>
<rect x="118" y="584" width="3" height="1"/>
<rect x="370" y="584" width="1" height="1"/>
<rect x="682" y="584" width="3" height="1"/>
<rect x="124" y="585" width="3" height="1"/>
<rect x="366" y="585" width="1" height="1"/>
<rect x="688" y="585" width="1" height="1"/>
<rect x="130" y="586" width="3" height="1"/>
<rect x="360" y="586" width="1" height="1"/>
<rect x="364" y="586" width="2" height="1"/>
<rect x="689" y="586" width="2" height="1"/>
<rect x="946" y="586" width="1" height="1"/>
<rect x="136" y="587" width="3" height="1"/>
<rect x="256" y="587" width="3" height="1"/>
<rect x="262" y="587" width="3" height="1"/>
<rect x="268" y="587" width="3" height="1"/>
<rect x="274" y="587" width="3" height="1"/>
<rect x="280" y="587" width="3" height="1"/>
<rect x="286" y="587" width="3" height="1"/>
<rect x="292" y="587" width="3" height="1"/>
<rect x="298" y="587" width="3" height="1"/>
<rect x="304" y="587" width="3" height="1"/>
<rect x="310" y="587" width="3" height="1"/>
<rect x="336" y="587" width="1" height="1"/>
<rect x="340" y="587" width="3" height="1"/>
<rect x="346" y="587" width="3" height="1"/>
<rect x="352" y="587" width="3" height="1"/>
<rect x="358" y="587" width="2" height="1"/>
<rect x="944" y="587" width="2" height="1"/>
<rect x="142" y="588" width="3" height="1"/>
<rect x="240" y="588" width="1" height="1"/>
<rect x="244" y="588" width="3" height="1"/>
<rect x="250" y="588" width="3" height="1"/>
<rect x="316" y="588" width="3" height="1"/>
<rect x="322" y="588" width="3" height="1"/>
<rect x="328" y="588" width="3" height="1"/>
<rect x="334" y="588" width="2" height="1"/>
<rect x="694" y="588" width="1" height="1"/>
<rect x="148" y="589" width="3" height="1"/>
<rect x="232" y="589" width="3" height="1"/>
<rect x="238" y="589" width="2" height="1"/>
<rect x="695" y="589" width="2" height="1"/>
<rect x="154" y="590" width="3" height="1"/>
<rect x="226" y="590" width="3" height="1"/>
<rect x="939" y="590" width="2" height="1"/>
<rect x="160" y="591" width="3" height="1"/>
<rect x="208" y="591" width="3" height="1"/>
<rect x="214" y="591" width="3" height="1"/>
<rect x="220" y="591" width="3" height="1"/>
<rect x="938" y="591" width="1" height="1"/>
<rect x="166" y="592" width="3" height="1"/>
<rect x="192" y="592" width="1" height="1"/>
<rect x="196" y="592" width="3" height="1"/>
<rect x="202" y="592" width="3" height="1"/>
<rect x="700" y="592" width="1" height="1"/>
<rect x="172" y="593" width="3" height="1"/>
<rect x="178" y="593" width="3" height="1"/>
<rect x="184" y="593" width="3" height="1"/>
<rect x="190" y="593" width="2" height="1"/>
<rect x="701" y="593" width="1" height="1"/>
<rect x="933" y="593" width="2" height="1"/>
<rect x="702" y="594" width="1" height="1"/>
<rect x="932" y="594" width="1" height="1"/>
<rect x="928" y="596" width="1" height="1"/>
<rect x="927" y="597" width="1" height="1"/>
<rect x="706" y="598" width="1" height="1"/>
<rect x="926" y="598" width="1" height="1"/>
<rect x="707" y="599" width="1" height="1"/>
<rect x="708" y="600" width="1" height="1"/>
<rect x="922" y="600" width="1" height="1"/>
<rect x="920" y="601" width="2" height="1"/>
<rect x="712" y="604" width="1" height="1"/>
<rect x="916" y="604" width="1" height="1"/>
<rect x="713" y="605" width="1" height="1"/>
<rect x="914" y="605" width="2" height="1"/>
<rect x="714" y="606" width="1" height="1"/>
<rect x="909" y="608" width="2" height="1"/>
<rect x="908" y="609" width="1" height="1"/>
<rect x="718" y="610" width="1" height="1"/>
<rect x="719" y="611" width="1" height="1"/>
<rect x="720" y="612" width="1" height="1"/>
<rect x="904" y="612" width="1" height="1"/>
<rect x="903" y="613" width="1" height="1"/>
<rect x="902" y="614" width="1" height="1"/>
<rect x="723" y="616" width="1" height="1"/>
<rect x="724" y="617" width="1" height="1"/>
<rect x="898" y="617" width="1" height="1"/>
<rect x="725" y="618" width="1" height="1"/>
<rect x="897" y="618" width="1" height="1"/>
<rect x="896" y="619" width="1" height="1"/>
<rect x="728" y="622" width="1" height="1"/>
<rect x="892" y="622" width="1" height="1"/>
<rect x="729" y="623" width="1" height="1"/>
<rect x="891" y="623" width="1" height="1"/>
<rect x="730" y="624" width="1" height="1"/>
<rect x="890" y="624" width="1" height="1"/>
<rect x="886" y="627" width="1" height="1"/>
<rect x="734" y="628" width="1" height="1"/>
<rect x="885" y="628" width="1" height="1"/>
<rect x="735" y="629" width="1" height="1"/>
<rect x="884" y="629" width="1" height="1"/>
<rect x="736" y="630" width="1" height="1"/>
<rect x="880" y="632" width="1" height="1"/>
<rect x="879" y="633" width="1" height="1"/>
<rect x="739" y="634" width="1" height="1"/>
<rect x="878" y="634" width="1" height="1"/>
<rect x="740" y="635" width="1" height="1"/>
<rect x="741" y="636" width="1" height="1"/>
<rect x="874" y="638" width="1" height="1"/>
<rect x="872" y="639" width="2" height="1"/>
<rect x="744" y="640" width="1" height="1"/>
<rect x="745" y="641" width="1" height="1"/>
<rect x="746" y="642" width="1" height="1"/>
<rect x="868" y="643" width="1" height="1"/>
<rect x="866" y="644" width="2" height="1"/>
<rect x="749" y="646" width="1" height="1"/>
<rect x="750" y="647" width="1" height="1"/>
<rect x="862" y="647" width="1" height="1"/>
<rect x="750" y="648" width="1" height="1"/>
<rect x="861" y="648" width="1" height="1"/>
<rect x="860" y="649" width="1" height="1"/>
<rect x="754" y="652" width="1" height="1"/>
<rect x="856" y="652" width="1" height="1"/>
<rect x="754" y="653" width="1" height="1"/>
<rect x="855" y="653" width="1" height="1"/>
<rect x="755" y="654" width="1" height="1"/>
<rect x="854" y="654" width="1" height="1"/>
<rect x="850" y="657" width="1" height="1"/>
<rect x="759" y="658" width="1" height="1"/>
<rect x="848" y="658" width="2" height="1"/>
<rect x="760" y="659" width="1" height="1"/>
<rect x="760" y="660" width="1" height="1"/>
<rect x="844" y="661" width="1" height="1"/>
<rect x="842" y="662" width="2" height="1"/>
<rect x="764" y="664" width="1" height="1"/>
<rect x="765" y="665" width="2" height="1"/>
<rect x="837" y="665" width="2" height="1"/>
<rect x="836" y="666" width="1" height="1"/>
<rect x="770" y="668" width="1" height="1"/>
<rect x="832" y="668" width="1" height="1"/>
<rect x="771" y="669" width="1" height="1"/>
<rect x="831" y="669" width="1" height="1"/>
<rect x="772" y="670" width="1" height="1"/>
<rect x="830" y="670" width="1" height="1"/>
<rect x="776" y="671" width="1" height="1"/>
<rect x="777" y="672" width="2" height="1"/>
<rect x="824" y="672" width="3" height="1"/>
<rect x="782" y="673" width="3" height="1"/>
<rect x="788" y="674" width="3" height="1"/>
<rect x="818" y="674" width="3" height="1"/>
<rect x="794" y="675" width="1" height="1"/>
<rect x="812" y="675" width="3" height="1"/>
<rect x="795" y="676" width="2" height="1"/>
<rect x="800" y="676" width="1" height="1"/>
<rect x="806" y="676" width="3" height="1"/>
<rect x="801" y="677" width="2" height="1"/>
</g>
<path d="M403 727.5h3M401 728.5h2M406 728.5h3M399 729.5h2M409 729.5h2M1012 729.5h2M397 730.5h2M411 730.5h12M986 730.5h12M1010 730.5h2M1014 730.5h3M396 731.5h1M423 731.5h4M982 731.5h4M998 731.5h2M1008 731.5h2M1017 731.5h2M1220 731.5h3M395 732.5h1M427 732.5h11M980 732.5h2M1000 732.5h2M1007 732.5h1M1019 732.5h2M1219 732.5h1M1223 732.5h4M1232 732.5h5M394 733.5h1M438 733.5h3M979 733.5h1M1002 733.5h2M1005 733.5h2M1021 733.5h1M1219 733.5h1M1227 733.5h5M1237 733.5h2M1266 733.5h3M393 734.5h1M441 734.5h2M944 734.5h7M979 734.5h1M1004 734.5h1M1021 734.5h1M1218 734.5h1M1239 734.5h1M1262 734.5h4M1269 734.5h2M392 735.5h1M443 735.5h2M932 735.5h12M951 735.5h4M978 735.5h1M1022 735.5h1M1217 735.5h1M1240 735.5h1M1258 735.5h4M1271 735.5h1M391 736.5h1M445 736.5h1M931 736.5h1M955 736.5h3M977 736.5h1M1023 736.5h1M1217 736.5h1M1241 736.5h2M1254 736.5h4M1272 736.5h1M390 737.5h1M446 737.5h1M931 737.5h1M958 737.5h3M976 737.5h1M1024 737.5h1M1051 737.5h10M1216 737.5h1M1243 737.5h1M1248 737.5h6M1273 737.5h2M389 738.5h1M447 738.5h1M930 738.5h1M961 738.5h2M976 738.5h1M1024 738.5h1M1048 738.5h3M1061 738.5h2M1215 738.5h1M1244 738.5h4M1275 738.5h1M384 739.5h5M448 739.5h1M930 739.5h1M963 739.5h3M975 739.5h1M1025 739.5h1M1046 739.5h2M1063 739.5h2M1215 739.5h1M1276 739.5h3M380 740.5h4M449 740.5h1M929 740.5h1M966 740.5h2M974 740.5h1M1026 740.5h1M1040 740.5h6M1065 740.5h1M1214 740.5h1M1279 740.5h4M378 741.5h2M450 741.5h1M929 741.5h1M968 741.5h2M973 741.5h1M1027 741.5h1M1034 741.5h6M1066 741.5h2M1213 741.5h1M1283 741.5h2M377 742.5h1M451 742.5h1M928 742.5h1M970 742.5h2M973 742.5h1M1027 742.5h1M1030 742.5h4M1068 742.5h1M1213 742.5h1M1285 742.5h1M376 743.5h1M452 743.5h1M927 743.5h1M972 743.5h1M1028 743.5h2M1069 743.5h2M1088 743.5h5M1212 743.5h1M1285 743.5h1M374 744.5h2M453 744.5h1M927 744.5h1M1071 744.5h2M1083 744.5h5M1093 744.5h1M1211 744.5h1M1286 744.5h1M373 745.5h1M453 745.5h1M588 745.5h1M926 745.5h1M1073 745.5h1M1080 745.5h3M1094 745.5h1M1116 745.5h1M1210 745.5h1M1287 745.5h1M364 746.5h9M454 746.5h1M586 746.5h2M589 746.5h1M926 746.5h1M1074 746.5h2M1078 746.5h2M1094 746.5h1M1114 746.5h2M1117 746.5h2M1208 746.5h2M1288 746.5h1M363 747.5h1M454 747.5h1M585 747.5h1M589 747.5h1M925 747.5h1M1076 747.5h2M1095 747.5h1M1113 747.5h1M1119 747.5h2M1196 747.5h2M1207 747.5h1M1288 747.5h1M362 748.5h1M455 748.5h1M584 748.5h1M590 748.5h1M925 748.5h1M1096 748.5h1M1112 748.5h1M1121 748.5h1M1148 748.5h13M1195 748.5h1M1198 748.5h3M1206 748.5h1M1289 748.5h1M332 749.5h1M362 749.5h1M455 749.5h1M582 749.5h2M590 749.5h1M920 749.5h5M1097 749.5h1M1110 749.5h2M1122 749.5h2M1147 749.5h1M1161 749.5h13M1195 749.5h1M1201 749.5h2M1205 749.5h1M1290 749.5h1M60 750.5h1M331 750.5h1M333 750.5h2M361 750.5h1M456 750.5h1M581 750.5h1M591 750.5h1M915 750.5h5M1098 750.5h1M1109 750.5h1M1124 750.5h2M1146 750.5h1M1174 750.5h3M1194 750.5h1M1203 750.5h2M1291 750.5h1M44 751.5h2M58 751.5h2M61 751.5h1M330 751.5h1M335 751.5h1M360 751.5h1M456 751.5h1M579 751.5h2M592 751.5h1M912 751.5h3M1098 751.5h1M1106 751.5h3M1126 751.5h3M1145 751.5h1M1177 751.5h2M1193 751.5h1M1291 751.5h1M43 752.5h1M46 752.5h2M56 752.5h2M61 752.5h1M196 752.5h1M240 752.5h13M330 752.5h1M336 752.5h1M359 752.5h1M457 752.5h1M576 752.5h3M592 752.5h1M868 752.5h1M910 752.5h2M1099 752.5h1M1102 752.5h4M1129 752.5h2M1144 752.5h1M1179 752.5h2M1192 752.5h1M1292 752.5h13M42 753.5h1M48 753.5h2M55 753.5h1M62 753.5h1M195 753.5h1M197 753.5h1M236 753.5h4M253 753.5h1M329 753.5h1M337 753.5h2M358 753.5h1M457 753.5h1M574 753.5h2M593 753.5h1M628 753.5h5M866 753.5h2M869 753.5h2M906 753.5h4M1100 753.5h2M1131 753.5h3M1143 753.5h1M1181 753.5h2M1192 753.5h1M1305 753.5h4M40 754.5h2M50 754.5h2M53 754.5h2M63 754.5h1M194 754.5h1M197 754.5h1M235 754.5h1M254 754.5h1M328 754.5h1M339 754.5h1M358 754.5h1M458 754.5h1M499 754.5h4M571 754.5h3M594 754.5h1M626 754.5h2M633 754.5h4M864 754.5h2M871 754.5h1M890 754.5h7M902 754.5h4M1134 754.5h3M1142 754.5h1M1183 754.5h1M1191 754.5h1M1309 754.5h1M39 755.5h1M52 755.5h1M63 755.5h1M164 755.5h17M193 755.5h1M198 755.5h1M234 755.5h1M254 755.5h1M327 755.5h1M340 755.5h1M357 755.5h1M458 755.5h1M497 755.5h2M503 755.5h4M568 755.5h3M594 755.5h1M624 755.5h2M637 755.5h1M842 755.5h7M863 755.5h1M872 755.5h1M886 755.5h4M897 755.5h5M1137 755.5h2M1141 755.5h1M1184 755.5h1M1190 755.5h1M1310 755.5h1M38 756.5h1M64 756.5h1M163 756.5h1M181 756.5h2M192 756.5h1M198 756.5h1M233 756.5h1M255 756.5h1M326 756.5h1M341 756.5h1M356 756.5h1M459 756.5h1M466 756.5h5M495 756.5h2M507 756.5h11M566 756.5h2M595 756.5h1M602 756.5h7M623 756.5h1M637 756.5h1M838 756.5h4M849 756.5h8M861 756.5h2M873 756.5h2M882 756.5h4M1139 756.5h2M1185 756.5h2M1189 756.5h1M1311 756.5h2M27 757.5h6M37 757.5h1M65 757.5h1M163 757.5h1M183 757.5h2M191 757.5h1M199 757.5h1M232 757.5h1M256 757.5h1M326 757.5h1M342 757.5h1M355 757.5h1M459 757.5h1M462 757.5h4M471 757.5h4M493 757.5h2M518 757.5h3M555 757.5h11M595 757.5h1M598 757.5h4M609 757.5h8M621 757.5h2M638 757.5h1M836 757.5h2M857 757.5h4M875 757.5h1M878 757.5h4M1187 757.5h1M1189 757.5h1M1313 757.5h1M1323 757.5h6M25 758.5h2M33 758.5h4M65 758.5h1M162 758.5h1M185 758.5h1M190 758.5h1M199 758.5h1M212 758.5h5M231 758.5h1M257 758.5h1M325 758.5h1M343 758.5h1M354 758.5h1M460 758.5h2M475 758.5h2M492 758.5h1M521 758.5h2M553 758.5h2M596 758.5h2M617 758.5h4M638 758.5h1M835 758.5h1M876 758.5h2M1188 758.5h1M1314 758.5h1M1320 758.5h3M1329 758.5h3M23 759.5h2M66 759.5h1M75 759.5h14M162 759.5h1M186 759.5h2M189 759.5h1M200 759.5h1M211 759.5h1M217 759.5h6M230 759.5h1M258 759.5h1M315 759.5h10M344 759.5h1M352 759.5h2M477 759.5h2M490 759.5h2M523 759.5h6M551 759.5h2M639 759.5h1M835 759.5h1M1315 759.5h1M1318 759.5h2M21 760.5h2M67 760.5h1M72 760.5h3M89 760.5h8M161 760.5h1M188 760.5h1M201 760.5h1M210 760.5h1M223 760.5h4M229 760.5h1M258 760.5h1M312 760.5h3M345 760.5h1M351 760.5h1M479 760.5h2M488 760.5h2M529 760.5h16M549 760.5h2M639 760.5h1M834 760.5h1M1316 760.5h2M20 761.5h1M67 761.5h1M70 761.5h2M97 761.5h4M161 761.5h1M201 761.5h1M209 761.5h1M227 761.5h2M259 761.5h1M282 761.5h15M310 761.5h2M346 761.5h1M350 761.5h1M481 761.5h1M487 761.5h1M545 761.5h4M640 761.5h1M833 761.5h1M19 762.5h1M68 762.5h2M101 762.5h1M160 762.5h1M202 762.5h1M208 762.5h1M260 762.5h3M278 762.5h4M297 762.5h13M347 762.5h1M349 762.5h1M482 762.5h2M485 762.5h2M640 762.5h1M833 762.5h1M19 763.5h1M102 763.5h1M116 763.5h5M160 763.5h1M202 763.5h1M207 763.5h1M263 763.5h4M272 763.5h6M348 763.5h1M484 763.5h1M641 763.5h1M832 763.5h1M18 764.5h1M103 764.5h1M114 764.5h2M121 764.5h8M159 764.5h1M203 764.5h1M206 764.5h1M267 764.5h5M641 764.5h1M831 764.5h1M17 765.5h1M104 765.5h1M113 765.5h1M129 765.5h4M159 765.5h1M203 765.5h1M205 765.5h1M642 765.5h1M831 765.5h1M17 766.5h1M105 766.5h1M112 766.5h1M133 766.5h2M147 766.5h3M158 766.5h1M204 766.5h1M642 766.5h1M830 766.5h1M16 767.5h1M106 767.5h1M110 767.5h2M135 767.5h2M145 767.5h2M150 767.5h2M158 767.5h1M643 767.5h1M829 767.5h1M4 768.5h1M15 768.5h1M107 768.5h1M109 768.5h1M137 768.5h1M143 768.5h2M152 768.5h2M157 768.5h1M643 768.5h1M648 768.5h9M829 768.5h1M5 769.5h2M15 769.5h1M108 769.5h1M138 769.5h2M141 769.5h2M154 769.5h2M157 769.5h1M644 769.5h4M657 769.5h5M828 769.5h1M7 770.5h2M14 770.5h1M140 770.5h1M156 770.5h1M662 770.5h2M826 770.5h2M9 771.5h1M13 771.5h1M664 771.5h2M824 771.5h2M10 772.5h2M13 772.5h1M666 772.5h2M823 772.5h1M12 773.5h1M668 773.5h5M812 773.5h5M821 773.5h2M673 774.5h8M811 774.5h1M817 774.5h4M681 775.5h4M810 775.5h1M684 776.5h1M764 776.5h5M808 776.5h2M685 777.5h1M724 777.5h3M762 777.5h2M769 777.5h8M807 777.5h1M685 778.5h1M723 778.5h1M727 778.5h4M760 778.5h2M777 778.5h16M806 778.5h1M685 779.5h1M722 779.5h1M731 779.5h3M759 779.5h1M793 779.5h8M805 779.5h1M686 780.5h1M721 780.5h1M734 780.5h2M757 780.5h2M801 780.5h4M686 781.5h1M720 781.5h1M736 781.5h2M754 781.5h3M686 782.5h1M719 782.5h1M738 782.5h2M750 782.5h4M687 783.5h1M718 783.5h1M740 783.5h10M687 784.5h1M717 784.5h1M687 785.5h1M716 785.5h1M688 786.5h1M716 786.5h1M688 787.5h1M715 787.5h1M689 788.5h1M715 788.5h1M689 789.5h1M714 789.5h1M689 790.5h1M714 790.5h1M690 791.5h1M713 791.5h1M690 792.5h1M713 792.5h1M690 793.5h1M713 793.5h1M691 794.5h1M712 794.5h1M691 795.5h1M699 795.5h2M712 795.5h1M691 796.5h1M696 796.5h3M701 796.5h1M711 796.5h1M692 797.5h1M694 797.5h2M702 797.5h1M711 797.5h1M692 798.5h2M703 798.5h1M711 798.5h1M704 799.5h1M710 799.5h1M704 800.5h1M710 800.5h1M705 801.5h1M709 801.5h1M706 802.5h1M709 802.5h1M707 803.5h2M708 804.5h1" fill="none" stroke="#1e90ff" stroke-width="1" shape-rendering="crispEdges"/>
<g shape-rendering="crispEdges">
<rect x="1685" y="24" width="2" height="1" fill="#000"/>
<rect x="1685" y="57" width="2" height="1" fill="#000"/>
<rect x="1685" y="90" width="2" height="1" fill="#000"/>
<rect x="1685" y="123" width="2" height="1" fill="#000"/>
<rect x="1685" y="156" width="2" height="1" fill="#000"/>
<rect x="1685" y="189" width="2" height="1" fill="#000"/>
<rect x="1685" y="222" width="2" height="1" fill="#000"/>
<rect x="1685" y="255" width="2" height="1" fill="#000"/>
<rect x="1685" y="288" width="2" height="1" fill="#000"/>
<rect x="1685" y="321" width="2" height="1" fill="#000"/>
<rect x="1685" y="354" width="2" height="1" fill="#000"/>
<rect x="1685" y="387" width="2" height="1" fill="#000"/>
<rect x="1685" y="420" width="2" height="1" fill="#000"/>
<rect x="1685" y="453" width="2" height="1" fill="#000"/>
<rect x="1685" y="486" width="2" height="1" fill="#000"/>
<rect x="1685" y="519" width="2" height="1" fill="#000"/>
<rect x="1685" y="525" width="2" height="1" fill="#000"/>
<rect x="1685" y="577" width="2" height="1" fill="#000"/>
<rect x="1685" y="689" width="2" height="1" fill="#000"/>
<rect x="1685" y="693" width="2" height="1" fill="#000"/>
<rect x="1685" y="815" width="2" height="1" fill="#000"/>
<rect x="4" y="817" width="1" height="3" fill="#000"/>
<rect x="68" y="817" width="1" height="3" fill="#000"/>
<rect x="132" y="817" width="1" height="3" fill="#000"/>
<rect x="196" y="817" width="1" height="3" fill="#000"/>
<rect x="260" y="817" width="1" height="3" fill="#000"/>
<rect x="324" y="817" width="1" height="3" fill="#000"/>
<rect x="388" y="817" width="1" height="3" fill="#000"/>
<rect x="452" y="817" width="1" height="3" fill="#000"/>
<rect x="516" y="817" width="1" height="3" fill="#000"/>
<rect x="580" y="817" width="1" height="3" fill="#000"/>
<rect x="644" y="817" width="1" height="3" fill="#000"/>
<rect x="708" y="817" width="1" height="3" fill="#000"/>
<rect x="772" y="817" width="1" height="3" fill="#000"/>
<rect x="836" y="817" width="1" height="3" fill="#000"/>
<rect x="900" y="817" width="1" height="3" fill="#000"/>
<rect x="964" y="817" width="1" height="3" fill="#000"/>
<rect x="1028" y="817" width="1" height="3" fill="#000"/>
<rect x="1092" y="817" width="1" height="3" fill="#000"/>
<rect x="1156" y="817" width="1" height="3" fill="#000"/>
<rect x="1220" y="817" width="1" height="3" fill="#000"/>
<rect x="1284" y="817" width="1" height="3" fill="#000"/>
</g>
<text x="1690.5" y="27.7" textLength="32.3" lengthAdjust="spacingAndGlyphs">1833.30</text>
<text x="1690.5" y="60.7" textLength="32.3" lengthAdjust="spacingAndGlyphs">1823.10</text>
<text x="1690.5" y="93.7" textLength="32.3" lengthAdjust="spacingAndGlyphs">1812.90</text>
<text x="1690.5" y="126.7" textLength="32.3" lengthAdjust="spacingAndGlyphs">1802.70</text>
<text x="1690.5" y="159.7" textLength="32.3" lengthAdjust="spacingAndGlyphs">1792.20</text>
<text x="1690.5" y="192.7" textLength="32.3" lengthAdjust="spacingAndGlyphs">1782.00</text>
<text x="1690.5" y="225.7" textLength="32.3" lengthAdjust="spacingAndGlyphs">1771.80</text>
<text x="1690.5" y="258.7" textLength="32.3" lengthAdjust="spacingAndGlyphs">1761.60</text>
<text x="1690.5" y="291.7" textLength="32.3" lengthAdjust="spacingAndGlyphs">1751.10</text>
<text x="1690.5" y="324.7" textLength="32.3" lengthAdjust="spacingAndGlyphs">1740.90</text>
<text x="1690.5" y="357.7" textLength="32.3" lengthAdjust="spacingAndGlyphs">1730.70</text>
<text x="1690.5" y="390.7" textLength="32.3" lengthAdjust="spacingAndGlyphs">1720.50</text>
<text x="1690.5" y="423.7" textLength="32.3" lengthAdjust="spacingAndGlyphs">1710.00</text>
<text x="1690.5" y="456.7" textLength="32.3" lengthAdjust="spacingAndGlyphs">1699.80</text>
<text x="1690.5" y="489.7" textLength="32.3" lengthAdjust="spacingAndGlyphs">1689.60</text>
<text x="1690.5" y="522.7" textLength="32.3" lengthAdjust="spacingAndGlyphs">1679.40</text>
<g shape-rendering="crispEdges">
<rect x="1686" y="29" width="41" height="11" fill="#ff0000"/>
<rect x="1686" y="125" width="41" height="11" fill="#32cd32"/>
<rect x="1686" y="157" width="41" height="11" fill="#000"/>
<rect x="1686" y="238" width="41" height="11" fill="#4169e1"/>
<rect x="1686" y="350" width="41" height="11" fill="#4169e1"/>
</g>
<text x="1690.5" y="38.2" textLength="32.3" lengthAdjust="spacingAndGlyphs" style="fill:#fff;stroke:#fff;stroke-width:0.25px">1830.00</text>
<text x="1690.5" y="134.2" textLength="32.3" lengthAdjust="spacingAndGlyphs" style="fill:#fff;stroke:#fff;stroke-width:0.25px">1800.00</text>
<text x="1690.5" y="166.2" textLength="32.3" lengthAdjust="spacingAndGlyphs" style="fill:#fff;stroke:#fff;stroke-width:0.25px">1790.45</text>
<text x="1690.5" y="247.2" textLength="32.3" lengthAdjust="spacingAndGlyphs" style="fill:#fff;stroke:#fff;stroke-width:0.25px">1765.00</text>
<text x="1690.5" y="359.2" textLength="32.3" lengthAdjust="spacingAndGlyphs" style="fill:#fff;stroke:#fff;stroke-width:0.25px">1730.00</text>
<text x="1689" y="535" textLength="27" lengthAdjust="spacingAndGlyphs">10.648</text>
<text x="1688.6" y="581" textLength="17" lengthAdjust="spacingAndGlyphs">0.00</text>
<text x="1688.3" y="686.8" textLength="30.4" lengthAdjust="spacingAndGlyphs">-23.017</text>
<text x="1688.6" y="703" textLength="14.4" lengthAdjust="spacingAndGlyphs">100</text>
<text x="1687.7" y="734" textLength="9.5" lengthAdjust="spacingAndGlyphs">70</text>
<text x="1687.7" y="783" textLength="9.5" lengthAdjust="spacingAndGlyphs">30</text>
<text x="1688" y="813" textLength="4.8" lengthAdjust="spacingAndGlyphs">0</text>
<polygon points="7,8 14,8 10.5,12" fill="#000"/>
<text x="18.8" y="13" textLength="57.2" lengthAdjust="spacingAndGlyphs">XAUUSD-,H4</text>
<text x="82.4" y="13" textLength="32.4" lengthAdjust="spacingAndGlyphs">1790.75</text>
<text x="118.5" y="13" textLength="32.3" lengthAdjust="spacingAndGlyphs">1791.04</text>
<text x="154.7" y="13" textLength="32" lengthAdjust="spacingAndGlyphs">1789.69</text>
<text x="190.6" y="13" textLength="32.2" lengthAdjust="spacingAndGlyphs">1790.45</text>
<text x="8" y="536.6" textLength="65.8" lengthAdjust="spacingAndGlyphs">MACD(12,26,9)</text>
<text x="76.6" y="536.6" textLength="23.4" lengthAdjust="spacingAndGlyphs">1.859</text>
<text x="102.6" y="536.6" textLength="23" lengthAdjust="spacingAndGlyphs">4.531</text>
<text x="8" y="704.8" textLength="32.4" lengthAdjust="spacingAndGlyphs">RSI(14)</text>
<text x="42.8" y="704.8" textLength="33.4" lengthAdjust="spacingAndGlyphs">47.4143</text>
<text x="3.7" y="829" textLength="46.5" lengthAdjust="spacingAndGlyphs">19 Jul 2021</text>
<text x="67.7" y="829" textLength="49.1" lengthAdjust="spacingAndGlyphs">20 Jul 12:00</text>
<text x="131.7" y="829" textLength="49.1" lengthAdjust="spacingAndGlyphs">21 Jul 20:00</text>
<text x="195.7" y="829" textLength="49.1" lengthAdjust="spacingAndGlyphs">23 Jul 04:00</text>
<text x="259.7" y="829" textLength="49.1" lengthAdjust="spacingAndGlyphs">26 Jul 12:00</text>
<text x="323.7" y="829" textLength="49.1" lengthAdjust="spacingAndGlyphs">27 Jul 20:00</text>
<text x="387.7" y="829" textLength="49.1" lengthAdjust="spacingAndGlyphs">29 Jul 04:00</text>
<text x="451.7" y="829" textLength="49.1" lengthAdjust="spacingAndGlyphs">30 Jul 12:00</text>
<text x="515.7" y="829" textLength="50.5" lengthAdjust="spacingAndGlyphs">2 Aug 20:00</text>
<text x="579.7" y="829" textLength="50.5" lengthAdjust="spacingAndGlyphs">4 Aug 04:00</text>
<text x="643.7" y="829" textLength="50.5" lengthAdjust="spacingAndGlyphs">5 Aug 12:00</text>
<text x="707.7" y="829" textLength="50.5" lengthAdjust="spacingAndGlyphs">8 Aug 23:00</text>
<text x="771.7" y="829" textLength="55.2" lengthAdjust="spacingAndGlyphs">10 Aug 04:00</text>
<text x="835.7" y="829" textLength="55.2" lengthAdjust="spacingAndGlyphs">11 Aug 12:00</text>
<text x="899.7" y="829" textLength="55.2" lengthAdjust="spacingAndGlyphs">12 Aug 20:00</text>
<text x="963.7" y="829" textLength="55.2" lengthAdjust="spacingAndGlyphs">16 Aug 04:00</text>
<text x="1027.7" y="829" textLength="55.2" lengthAdjust="spacingAndGlyphs">17 Aug 12:00</text>
<text x="1091.7" y="829" textLength="55.2" lengthAdjust="spacingAndGlyphs">18 Aug 20:00</text>
<text x="1155.7" y="829" textLength="55.2" lengthAdjust="spacingAndGlyphs">20 Aug 04:00</text>
<text x="1219.7" y="829" textLength="55.2" lengthAdjust="spacingAndGlyphs">23 Aug 12:00</text>
<text x="1283.7" y="829" textLength="55.2" lengthAdjust="spacingAndGlyphs">24 Aug 20:00</text>
<polygon points="1341.5,2 1351.5,2 1346.5,7" fill="#708090"/>
<text x="1205" y="457.4" class="cjk" style="font-size:38.8px" textLength="183" lengthAdjust="spacingAndGlyphs">多空转折点</text>
<text x="1388" y="454.4" class="cjk" style="font-size:39px" textLength="84" lengthAdjust="spacingAndGlyphs">1800</text>
</svg></body></html>
